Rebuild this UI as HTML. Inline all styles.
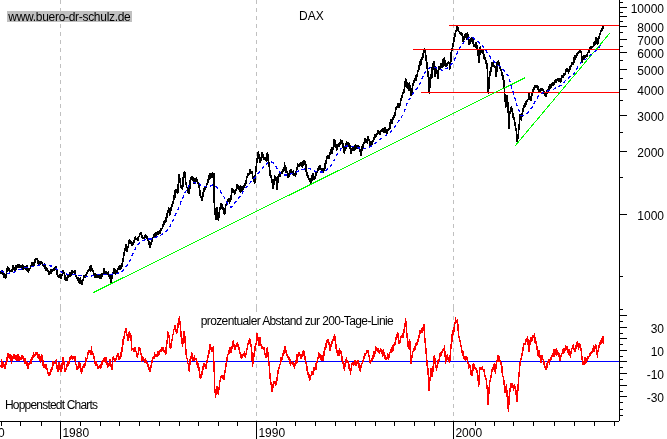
<!DOCTYPE html>
<html><head><meta charset="utf-8"><title>DAX</title>
<style>html,body{margin:0;padding:0;background:#fff;overflow:hidden}body{width:667px;height:439px;position:relative}</style>
</head><body>
<svg width="667" height="439" viewBox="0 0 667 439" style="position:absolute;left:0;top:0;will-change:transform">
<rect width="667" height="439" fill="#fff"/>
<line x1="60.5" y1="0" x2="60.5" y2="308" stroke="#c0c0c0" stroke-width="1" stroke-dasharray="4 4" shape-rendering="crispEdges"/>
<line x1="60.5" y1="308" x2="60.5" y2="421" stroke="#c0c0c0" stroke-width="1" stroke-dasharray="4 4" shape-rendering="crispEdges"/>
<line x1="256.5" y1="0" x2="256.5" y2="308" stroke="#c0c0c0" stroke-width="1" stroke-dasharray="4 4" shape-rendering="crispEdges"/>
<line x1="256.5" y1="308" x2="256.5" y2="421" stroke="#c0c0c0" stroke-width="1" stroke-dasharray="4 4" shape-rendering="crispEdges"/>
<line x1="453.5" y1="0" x2="453.5" y2="308" stroke="#c0c0c0" stroke-width="1" stroke-dasharray="4 4" shape-rendering="crispEdges"/>
<line x1="453.5" y1="308" x2="453.5" y2="421" stroke="#c0c0c0" stroke-width="1" stroke-dasharray="4 4" shape-rendering="crispEdges"/>
<rect x="7" y="11" width="125" height="11" fill="#c0c0c0" shape-rendering="crispEdges"/>
<path d="M1.0,272.5 L1.0,273.4 L1.3,271.1 L1.4,272.0 L1.7,272.1 L2.0,271.0 L2.3,272.1 L2.4,271.8 L2.7,271.3 L3.0,273.9 L3.4,274.5 L3.7,277.2 L4.1,273.4 L4.4,276.0 L4.5,276.6 L4.7,276.2 L5.1,277.6 L5.4,275.1 L5.7,278.1 L5.8,277.1 L6.1,275.4 L6.4,273.6 L6.8,270.9 L7.1,269.6 L7.5,267.1 L7.5,266.8 L7.8,267.9 L8.1,267.6 L8.5,268.7 L8.8,268.4 L9.0,269.8 L9.2,270.5 L9.5,271.0 L9.8,270.8 L10.2,270.8 L10.5,271.6 L10.9,271.0 L11.2,270.3 L11.3,271.4 L11.5,271.3 L11.9,271.1 L12.2,269.6 L12.6,268.1 L12.9,266.0 L13.2,266.5 L13.5,267.6 L13.6,267.5 L13.9,267.5 L14.3,269.2 L14.6,270.5 L14.9,270.0 L15.0,270.6 L15.3,269.9 L15.6,267.7 L16.0,269.1 L16.3,265.7 L16.6,268.0 L17.0,267.8 L17.3,267.5 L17.7,266.9 L18.0,265.1 L18.0,266.1 L18.3,267.0 L18.7,267.2 L19.0,267.6 L19.4,265.2 L19.7,266.4 L20.0,265.3 L20.3,267.6 L20.4,266.7 L20.7,266.4 L21.1,265.8 L21.4,266.9 L21.7,266.3 L22.1,268.1 L22.4,264.5 L22.6,266.8 L22.8,268.8 L23.1,269.6 L23.4,267.2 L23.8,266.0 L24.1,268.2 L24.5,266.4 L24.8,266.5 L25.1,267.4 L25.5,269.3 L25.8,268.6 L26.2,268.3 L26.3,267.6 L26.5,268.0 L26.8,265.7 L27.2,270.2 L27.5,270.6 L27.9,271.2 L28.2,271.8 L28.3,270.9 L28.5,268.6 L28.9,269.1 L29.2,270.0 L29.6,268.4 L29.9,268.8 L30.2,268.1 L30.6,267.1 L30.8,266.1 L30.9,265.3 L31.3,265.3 L31.6,266.4 L31.9,264.7 L32.3,262.4 L32.6,263.5 L33.0,265.9 L33.3,264.7 L33.6,262.9 L33.8,263.1 L34.0,265.7 L34.3,262.7 L34.7,262.8 L35.0,262.1 L35.3,259.5 L35.7,259.7 L36.0,259.2 L36.4,258.4 L36.7,258.4 L36.8,258.6 L37.0,259.4 L37.4,259.9 L37.7,260.9 L38.1,261.3 L38.3,262.3 L38.4,264.1 L38.7,261.6 L39.1,262.8 L39.4,261.9 L39.8,262.4 L40.1,261.4 L40.4,263.9 L40.8,262.3 L41.1,262.9 L41.4,262.3 L41.5,262.3 L41.8,262.9 L42.1,263.7 L42.5,263.8 L42.8,265.2 L43.2,265.5 L43.5,264.6 L43.6,265.3 L43.8,266.5 L44.2,265.5 L44.5,263.7 L44.9,266.9 L45.2,268.2 L45.5,269.5 L45.9,270.3 L46.2,267.7 L46.6,269.4 L46.6,268.3 L46.9,268.1 L47.2,269.6 L47.6,269.6 L47.9,271.3 L48.3,270.7 L48.6,272.6 L48.9,272.1 L49.3,274.4 L49.6,274.4 L49.6,271.6 L50.0,271.7 L50.3,273.3 L50.6,271.0 L51.0,273.6 L51.3,269.6 L51.7,272.2 L52.0,270.4 L52.3,271.2 L52.6,270.6 L52.7,269.6 L53.0,269.5 L53.4,270.2 L53.7,270.3 L54.0,270.2 L54.4,267.9 L54.7,268.6 L55.1,269.2 L55.4,269.0 L55.7,268.6 L56.1,266.3 L56.4,269.1 L56.4,269.7 L56.8,270.0 L57.1,274.2 L57.4,273.7 L57.8,276.1 L57.9,275.9 L58.1,276.1 L58.5,277.4 L58.8,277.3 L59.1,277.1 L59.5,274.8 L59.8,276.3 L60.2,275.1 L60.5,278.6 L60.8,278.4 L60.9,278.1 L61.2,276.7 L61.5,276.0 L61.9,274.8 L62.2,275.4 L62.5,272.7 L62.9,271.9 L63.2,271.4 L63.2,270.4 L63.6,272.8 L63.9,273.6 L64.2,273.2 L64.6,274.2 L64.9,278.9 L65.3,279.9 L65.4,280.4 L65.6,280.5 L65.9,280.5 L66.3,278.8 L66.6,277.9 L67.0,280.2 L67.3,278.6 L67.6,277.8 L68.0,276.0 L68.3,276.3 L68.7,276.5 L69.0,275.6 L69.2,275.1 L69.3,275.4 L69.7,272.4 L70.0,276.3 L70.4,274.1 L70.7,273.9 L71.0,275.0 L71.4,273.5 L71.7,272.7 L72.1,271.3 L72.4,270.5 L72.7,273.0 L72.9,271.4 L73.1,272.6 L73.4,271.6 L73.8,272.6 L74.1,272.8 L74.4,271.4 L74.8,273.7 L75.1,270.9 L75.2,273.6 L75.5,273.8 L75.8,275.7 L76.1,275.7 L76.5,277.0 L76.8,277.2 L77.2,278.3 L77.4,279.6 L77.5,279.4 L77.8,280.5 L78.2,278.2 L78.5,280.6 L78.9,279.5 L79.2,282.4 L79.5,280.7 L79.9,283.2 L80.2,278.0 L80.6,281.2 L80.9,280.4 L81.2,281.1 L81.6,280.6 L81.9,284.4 L82.0,281.9 L82.3,281.9 L82.6,280.3 L82.9,279.9 L83.3,279.7 L83.6,276.2 L84.0,277.4 L84.3,277.2 L84.6,277.1 L85.0,275.7 L85.3,276.8 L85.7,275.9 L85.7,275.1 L86.0,275.6 L86.3,274.2 L86.7,272.5 L87.0,272.9 L87.4,272.8 L87.7,270.9 L88.0,270.6 L88.4,270.5 L88.7,270.9 L89.1,269.3 L89.4,268.8 L89.5,269.1 L89.7,267.0 L90.1,268.2 L90.4,271.2 L90.8,269.8 L91.1,266.1 L91.4,266.8 L91.7,268.3 L91.8,268.0 L92.1,270.3 L92.5,270.2 L92.8,271.4 L93.1,270.9 L93.5,273.2 L93.8,274.5 L94.2,273.6 L94.5,275.8 L94.7,276.6 L94.8,277.6 L95.2,273.8 L95.5,277.0 L95.9,276.5 L96.2,275.4 L96.5,277.4 L96.9,277.3 L97.2,274.4 L97.6,276.5 L97.9,277.4 L98.0,276.4 L98.2,276.9 L98.6,276.6 L98.9,275.8 L99.3,276.4 L99.6,277.5 L99.9,278.2 L100.3,275.0 L100.6,277.8 L101.0,278.5 L101.0,277.9 L101.3,276.1 L101.6,276.4 L102.0,276.0 L102.3,273.4 L102.7,275.2 L103.0,273.4 L103.3,273.0 L103.7,271.3 L104.0,271.1 L104.0,268.3 L104.4,271.1 L104.7,273.6 L105.0,272.7 L105.4,271.8 L105.7,272.4 L106.1,274.7 L106.4,273.0 L106.7,272.2 L107.0,274.1 L107.1,274.0 L107.4,273.7 L107.8,273.9 L108.1,272.2 L108.4,274.8 L108.8,276.1 L109.1,276.6 L109.3,275.6 L109.5,278.5 L109.8,277.6 L110.1,277.0 L110.5,275.0 L110.8,278.1 L111.2,282.1 L111.2,279.4 L111.5,277.8 L111.8,278.1 L112.2,276.1 L112.5,274.9 L112.9,273.4 L113.2,272.5 L113.5,272.6 L113.8,271.1 L113.9,268.6 L114.2,273.0 L114.6,272.8 L114.9,271.7 L115.2,273.9 L115.6,270.0 L115.9,273.9 L116.0,273.4 L116.3,273.2 L116.6,272.1 L116.9,272.5 L117.3,270.4 L117.6,270.1 L118.0,268.8 L118.3,269.3 L118.6,268.7 L119.0,267.1 L119.0,267.4 L119.3,267.2 L119.7,269.1 L120.0,265.5 L120.3,267.9 L120.7,268.8 L121.0,266.0 L121.3,268.1 L121.4,267.1 L121.7,266.5 L122.0,263.9 L122.4,262.9 L122.7,261.4 L122.8,260.6 L123.1,260.9 L123.4,257.2 L123.7,255.7 L124.1,253.0 L124.3,253.1 L124.4,251.8 L124.8,250.7 L125.1,248.5 L125.4,248.3 L125.8,245.2 L125.8,244.8 L126.1,245.0 L126.5,247.4 L126.8,246.8 L127.1,251.1 L127.3,249.3 L127.5,248.7 L127.8,247.0 L128.2,247.3 L128.5,245.1 L128.8,242.6 L129.2,240.8 L129.5,240.8 L129.6,240.3 L129.9,240.1 L130.2,240.8 L130.5,242.0 L130.9,241.5 L131.2,244.0 L131.6,243.4 L131.8,245.6 L131.9,245.7 L132.2,244.3 L132.6,244.8 L132.9,243.4 L133.3,242.5 L133.6,242.8 L133.9,240.7 L134.3,242.5 L134.6,239.7 L134.8,239.5 L135.0,239.3 L135.3,237.1 L135.6,239.4 L136.0,239.8 L136.3,238.9 L136.7,238.4 L137.0,239.0 L137.3,238.2 L137.7,239.4 L137.9,238.8 L138.0,240.7 L138.4,238.7 L138.7,236.4 L139.0,236.3 L139.4,236.1 L139.7,234.5 L140.1,234.0 L140.4,234.4 L140.7,232.6 L140.9,232.8 L141.1,233.3 L141.4,235.1 L141.8,235.1 L142.1,237.3 L142.4,235.8 L142.8,237.3 L143.1,238.0 L143.1,237.6 L143.5,237.9 L143.8,237.8 L144.1,237.8 L144.5,238.3 L144.8,237.2 L145.2,235.9 L145.5,235.9 L145.8,235.3 L146.1,235.8 L146.2,236.6 L146.5,235.9 L146.9,237.8 L147.2,237.1 L147.5,238.4 L147.9,238.6 L148.2,240.8 L148.4,240.3 L148.6,243.2 L148.9,242.1 L149.2,244.7 L149.6,243.8 L149.9,247.6 L150.3,246.6 L150.3,247.1 L150.6,245.2 L150.9,243.3 L151.3,243.0 L151.6,239.9 L152.0,240.9 L152.1,239.5 L152.3,240.4 L152.6,237.6 L153.0,237.8 L153.3,237.4 L153.7,236.1 L154.0,234.5 L154.3,234.7 L154.4,234.3 L154.7,236.6 L155.0,234.3 L155.4,234.6 L155.7,233.4 L156.0,233.1 L156.4,233.4 L156.7,234.7 L157.1,234.0 L157.4,232.0 L157.7,233.8 L158.1,233.5 L158.2,233.5 L158.4,234.0 L158.8,232.1 L159.1,231.7 L159.4,231.5 L159.8,232.1 L160.1,233.2 L160.5,228.8 L160.8,230.5 L161.1,230.4 L161.2,229.8 L161.5,229.9 L161.8,228.6 L162.2,228.1 L162.5,227.9 L162.8,226.0 L163.2,224.9 L163.4,225.3 L163.5,222.9 L163.9,224.4 L164.2,221.9 L164.5,222.8 L164.9,222.0 L165.2,220.4 L165.6,222.0 L165.9,219.8 L166.2,217.6 L166.5,217.9 L166.6,218.0 L166.9,216.5 L167.3,213.4 L167.6,212.4 L167.9,212.2 L168.3,210.9 L168.6,208.4 L168.8,208.1 L169.0,209.4 L169.3,213.1 L169.5,214.1 L169.6,215.5 L170.0,211.2 L170.3,212.1 L170.7,210.9 L171.0,210.2 L171.3,207.1 L171.7,207.1 L172.0,206.1 L172.4,204.3 L172.6,203.6 L172.7,203.9 L173.0,202.1 L173.4,201.4 L173.7,199.3 L174.1,197.8 L174.4,194.9 L174.7,198.3 L174.8,196.8 L175.1,191.0 L175.4,192.7 L175.6,190.8 L175.8,191.5 L176.1,189.8 L176.4,191.0 L176.8,192.6 L177.1,190.5 L177.5,193.3 L177.8,192.3 L177.8,189.2 L178.1,186.0 L178.5,183.5 L178.8,178.6 L178.9,176.5 L179.2,174.5 L179.5,177.9 L179.8,179.1 L180.2,182.0 L180.5,183.9 L180.8,185.6 L180.9,187.1 L181.2,187.5 L181.5,185.7 L181.9,187.6 L182.2,188.0 L182.3,188.6 L182.6,189.1 L182.9,181.9 L183.2,177.7 L183.6,177.8 L183.8,175.0 L183.9,173.2 L184.3,173.7 L184.6,172.8 L184.6,171.9 L184.9,174.9 L185.3,177.2 L185.6,182.1 L186.0,184.1 L186.1,184.1 L186.3,183.5 L186.6,186.6 L187.0,187.5 L187.3,188.0 L187.6,189.3 L187.7,192.6 L188.0,188.6 L188.3,192.7 L188.7,192.2 L189.0,192.8 L189.1,193.8 L189.4,191.2 L189.7,188.2 L190.0,183.4 L190.4,179.3 L190.6,178.0 L190.7,178.6 L191.1,177.5 L191.4,179.6 L191.7,178.0 L192.1,177.0 L192.4,179.2 L192.8,177.4 L192.9,180.3 L193.1,179.5 L193.4,178.8 L193.8,179.2 L194.1,183.7 L194.5,178.8 L194.8,181.3 L195.1,180.5 L195.5,178.8 L195.8,178.8 L196.2,178.2 L196.5,180.4 L196.6,179.5 L196.8,180.0 L197.2,181.5 L197.5,181.1 L197.9,183.2 L198.2,182.9 L198.5,185.2 L198.9,185.2 L198.9,184.1 L199.2,187.3 L199.6,189.9 L199.9,192.0 L200.2,194.2 L200.4,196.1 L200.6,197.2 L200.9,196.3 L201.3,197.3 L201.6,197.7 L201.9,199.8 L202.3,199.9 L202.3,199.1 L202.6,197.3 L203.0,194.1 L203.3,192.6 L203.6,193.1 L204.0,188.8 L204.1,189.3 L204.3,189.2 L204.7,188.8 L205.0,189.4 L205.3,187.8 L205.7,186.9 L206.0,187.1 L206.4,186.0 L206.4,187.1 L206.7,184.3 L207.0,184.2 L207.4,183.5 L207.7,180.3 L208.1,182.1 L208.4,182.6 L208.6,179.5 L208.7,176.0 L209.1,178.5 L209.4,176.8 L209.8,178.9 L210.1,173.4 L210.2,173.5 L210.4,174.6 L210.8,173.8 L211.1,176.8 L211.5,173.9 L211.8,173.9 L212.1,174.1 L212.4,175.0 L212.5,176.7 L212.8,173.2 L213.2,174.6 L213.5,174.9 L213.8,173.9 L213.9,174.3 L214.2,193.8 L214.4,204.4 L214.5,207.0 L214.9,208.6 L215.2,209.7 L215.5,218.9 L215.7,219.4 L215.9,214.8 L216.2,213.7 L216.6,214.5 L216.9,208.1 L216.9,211.2 L217.2,211.2 L217.6,214.1 L217.9,217.2 L218.3,218.2 L218.4,220.2 L218.6,218.9 L218.9,216.2 L219.3,211.9 L219.6,210.5 L219.9,209.6 L220.0,208.0 L220.3,206.9 L220.6,206.6 L221.0,208.0 L221.3,203.8 L221.4,203.6 L221.7,204.9 L222.0,205.0 L222.3,207.5 L222.7,208.3 L222.9,208.1 L223.0,209.0 L223.4,208.9 L223.7,210.5 L224.0,213.2 L224.4,212.8 L224.7,213.4 L224.7,214.3 L225.1,210.8 L225.4,208.0 L225.7,206.0 L225.9,205.1 L226.1,205.6 L226.4,204.7 L226.8,202.9 L227.1,203.4 L227.4,202.0 L227.8,199.6 L228.1,199.6 L228.2,199.1 L228.5,201.1 L228.8,200.6 L229.1,198.4 L229.5,203.3 L229.8,200.5 L230.2,201.2 L230.5,200.6 L230.5,200.9 L230.8,198.9 L231.2,196.8 L231.5,193.7 L231.9,192.3 L232.0,191.6 L232.2,188.3 L232.5,192.3 L232.9,192.0 L233.2,192.5 L233.6,190.2 L233.9,191.4 L234.2,191.4 L234.6,192.1 L234.9,193.8 L235.0,191.6 L235.3,191.3 L235.6,189.7 L235.9,190.2 L236.3,190.6 L236.6,189.8 L237.0,184.6 L237.3,186.2 L237.6,185.9 L238.0,185.2 L238.0,186.3 L238.3,188.3 L238.7,186.4 L239.0,189.5 L239.3,188.6 L239.7,189.4 L240.0,189.4 L240.4,192.6 L240.7,186.2 L241.0,190.1 L241.0,190.4 L241.4,188.4 L241.7,191.6 L242.1,187.6 L242.4,188.2 L242.7,189.6 L243.0,187.1 L243.1,186.6 L243.4,186.9 L243.8,185.8 L244.1,186.9 L244.4,185.4 L244.8,183.6 L245.1,184.9 L245.3,184.1 L245.5,183.0 L245.8,183.3 L246.1,180.9 L246.5,179.1 L246.8,177.5 L247.2,176.8 L247.5,175.1 L247.5,175.9 L247.8,173.9 L248.2,174.0 L248.5,175.5 L248.9,173.3 L249.2,174.3 L249.5,171.9 L249.8,170.6 L249.9,171.7 L250.2,169.6 L250.6,172.7 L250.9,171.8 L251.2,171.6 L251.6,173.1 L251.9,172.2 L252.0,171.4 L252.3,171.7 L252.6,175.3 L252.9,177.6 L253.3,178.5 L253.5,179.6 L253.6,177.8 L254.0,180.3 L254.3,182.0 L254.6,183.4 L254.6,182.7 L255.0,182.5 L255.3,175.8 L255.7,171.5 L255.8,169.1 L256.0,166.9 L256.3,167.8 L256.7,162.2 L256.8,160.1 L257.0,161.3 L257.4,157.9 L257.7,157.6 L258.0,152.4 L258.3,154.8 L258.4,152.0 L258.7,154.7 L259.1,157.8 L259.4,158.9 L259.7,157.4 L260.1,162.8 L260.3,160.1 L260.4,159.1 L260.8,159.1 L261.1,158.2 L261.4,160.0 L261.8,152.3 L262.1,154.0 L262.3,154.1 L262.5,155.6 L262.8,157.4 L263.1,156.8 L263.5,154.5 L263.8,158.6 L264.1,158.6 L264.2,159.1 L264.5,159.2 L264.8,158.3 L265.2,159.5 L265.5,157.5 L265.6,160.1 L265.9,160.7 L266.2,161.0 L266.5,156.0 L266.9,156.5 L267.2,153.3 L267.5,153.3 L267.6,152.7 L267.9,157.5 L268.2,159.2 L268.6,163.0 L268.6,162.3 L268.9,162.4 L269.3,165.4 L269.6,171.5 L269.9,170.4 L270.1,172.1 L270.3,175.4 L270.6,174.6 L271.0,175.9 L271.3,177.1 L271.6,179.6 L271.6,178.7 L272.0,182.1 L272.3,182.4 L272.7,186.6 L272.8,187.9 L273.0,188.1 L273.3,183.8 L273.7,184.7 L274.0,180.6 L274.3,179.6 L274.4,178.2 L274.7,175.7 L275.0,179.9 L275.4,177.9 L275.7,178.9 L276.1,180.1 L276.1,178.1 L276.4,179.9 L276.7,187.3 L276.8,189.4 L277.1,184.9 L277.4,184.4 L277.8,182.0 L278.1,180.0 L278.3,176.6 L278.4,176.1 L278.8,174.7 L279.1,175.0 L279.5,175.9 L279.8,174.4 L279.8,173.1 L280.1,174.0 L280.5,176.1 L280.8,172.5 L281.2,173.2 L281.5,172.6 L281.8,171.4 L282.2,173.0 L282.5,171.3 L282.9,171.1 L282.9,171.4 L283.2,169.2 L283.5,170.5 L283.9,168.1 L284.2,170.3 L284.6,162.9 L284.7,165.3 L284.9,165.2 L285.2,168.2 L285.6,168.5 L285.9,168.9 L286.3,172.3 L286.6,167.9 L286.6,170.6 L286.9,171.5 L287.3,171.7 L287.6,172.3 L288.0,174.7 L288.3,177.4 L288.6,177.1 L288.9,176.6 L289.0,176.0 L289.3,174.8 L289.7,174.3 L290.0,170.4 L290.3,169.9 L290.4,169.8 L290.7,171.1 L291.0,171.7 L291.4,170.3 L291.7,173.3 L292.0,172.0 L292.4,173.6 L292.6,173.6 L292.7,173.2 L293.1,171.2 L293.4,175.3 L293.7,175.3 L294.1,175.2 L294.4,175.5 L294.8,174.0 L295.1,174.2 L295.4,176.2 L295.6,175.1 L295.8,173.5 L296.1,172.3 L296.5,170.2 L296.8,169.8 L297.1,167.6 L297.1,168.8 L297.5,166.6 L297.8,164.2 L298.2,165.6 L298.5,166.0 L298.8,166.2 L299.2,166.5 L299.5,165.4 L299.9,164.1 L300.2,164.5 L300.2,164.6 L300.5,165.1 L300.9,163.1 L301.2,165.3 L301.6,164.5 L301.9,166.2 L302.2,166.0 L302.4,166.1 L302.6,166.9 L302.9,161.4 L303.3,164.6 L303.6,161.4 L303.9,161.4 L304.2,160.8 L304.3,164.3 L304.6,160.5 L305.0,161.9 L305.3,163.3 L305.6,164.5 L305.7,163.8 L306.0,168.3 L306.2,170.6 L306.3,171.7 L306.7,172.7 L307.0,175.7 L307.3,172.7 L307.7,175.3 L307.7,175.1 L308.0,177.3 L308.4,176.9 L308.7,179.1 L309.0,178.8 L309.2,179.6 L309.4,179.8 L309.7,180.1 L310.1,181.5 L310.4,181.5 L310.7,182.6 L310.7,183.4 L311.1,179.5 L311.4,178.4 L311.8,180.9 L312.1,175.9 L312.2,175.9 L312.4,177.2 L312.8,176.1 L313.1,174.2 L313.5,178.2 L313.8,179.7 L314.1,179.3 L314.4,179.6 L314.5,179.4 L314.8,178.6 L315.2,176.6 L315.5,175.4 L315.8,175.1 L315.9,174.4 L316.2,172.6 L316.5,172.6 L316.9,172.2 L317.2,172.4 L317.4,170.6 L317.5,170.1 L317.9,170.9 L318.2,168.8 L318.6,167.1 L318.9,168.5 L319.2,169.3 L319.4,166.1 L319.6,166.9 L319.9,168.3 L320.3,166.0 L320.6,168.1 L320.9,169.6 L321.2,169.1 L321.3,169.5 L321.6,171.0 L322.0,168.8 L322.3,171.3 L322.6,169.5 L323.0,172.3 L323.0,171.4 L323.3,170.5 L323.7,170.7 L324.0,168.8 L324.3,168.1 L324.7,168.8 L325.0,166.1 L325.0,163.6 L325.4,164.5 L325.7,163.2 L326.0,163.3 L326.4,159.4 L326.5,159.3 L326.7,157.3 L327.1,157.5 L327.4,158.3 L327.7,157.5 L328.1,155.9 L328.4,156.9 L328.7,156.3 L328.8,156.0 L329.1,158.5 L329.4,155.6 L329.8,154.9 L330.1,152.6 L330.5,153.6 L330.8,150.8 L331.0,151.1 L331.1,149.6 L331.5,151.6 L331.8,147.9 L332.2,153.3 L332.5,149.0 L332.8,148.1 L333.2,148.5 L333.2,148.8 L333.5,149.4 L333.9,142.9 L334.2,139.9 L334.5,141.8 L334.7,140.5 L334.9,140.5 L335.2,145.5 L335.6,143.7 L335.9,147.3 L336.0,146.9 L336.2,145.9 L336.6,147.3 L336.9,149.8 L337.3,146.1 L337.6,145.3 L337.9,145.6 L338.3,146.3 L338.3,146.1 L338.6,144.9 L339.0,144.2 L339.3,143.3 L339.6,145.7 L340.0,142.9 L340.3,142.8 L340.7,139.7 L341.0,142.4 L341.3,140.9 L341.3,141.4 L341.7,141.3 L342.0,141.0 L342.4,144.6 L342.7,143.1 L342.8,143.9 L343.0,146.4 L343.4,148.4 L343.7,146.0 L344.1,151.9 L344.3,152.9 L344.4,152.0 L344.7,151.1 L345.1,148.3 L345.4,146.9 L345.8,148.6 L345.8,145.4 L346.1,145.7 L346.4,142.3 L346.8,143.6 L347.1,142.7 L347.5,146.1 L347.8,143.5 L348.0,143.1 L348.1,142.7 L348.5,144.6 L348.8,143.4 L349.2,146.2 L349.5,144.9 L349.5,146.1 L349.8,145.7 L350.2,147.9 L350.5,149.7 L350.9,153.3 L351.1,152.9 L351.2,152.3 L351.5,152.2 L351.9,149.0 L352.2,148.7 L352.6,148.3 L352.6,147.6 L352.9,148.6 L353.2,149.3 L353.6,147.8 L353.9,150.0 L354.3,147.0 L354.6,148.7 L354.8,148.4 L354.9,149.6 L355.3,145.1 L355.6,147.7 L356.0,147.2 L356.3,146.9 L356.6,145.9 L357.0,147.7 L357.1,147.6 L357.3,148.6 L357.7,146.5 L358.0,145.7 L358.3,145.9 L358.6,146.1 L358.7,146.5 L359.0,146.8 L359.4,149.2 L359.7,151.0 L360.0,150.5 L360.4,149.6 L360.7,155.5 L360.8,154.4 L361.1,152.0 L361.4,151.6 L361.7,146.6 L362.1,149.9 L362.3,147.6 L362.4,146.2 L362.8,147.7 L363.1,144.5 L363.4,144.9 L363.8,142.4 L364.1,143.2 L364.5,143.1 L364.6,141.6 L364.8,138.9 L365.1,140.2 L365.5,142.2 L365.8,140.4 L366.2,142.0 L366.5,140.1 L366.8,140.9 L366.8,141.8 L367.2,143.0 L367.5,139.9 L367.9,140.3 L368.2,136.7 L368.5,139.9 L368.9,140.4 L369.1,139.4 L369.2,141.0 L369.6,141.2 L369.9,141.7 L370.2,145.3 L370.6,144.4 L370.6,145.4 L370.9,141.6 L371.3,145.9 L371.6,142.4 L371.9,144.1 L372.3,142.4 L372.6,142.5 L372.9,141.6 L373.0,141.2 L373.3,140.5 L373.6,140.7 L374.0,138.1 L374.3,138.1 L374.7,134.5 L375.0,136.2 L375.1,136.4 L375.3,137.3 L375.7,136.6 L376.0,136.4 L376.4,136.0 L376.7,134.5 L377.0,134.0 L377.4,133.3 L377.4,133.3 L377.7,132.5 L378.1,130.6 L378.4,133.1 L378.7,131.3 L379.1,131.8 L379.4,131.7 L379.6,131.8 L379.8,131.9 L380.1,134.4 L380.4,134.0 L380.8,131.4 L381.1,130.4 L381.5,131.4 L381.8,129.7 L382.1,129.9 L382.5,129.2 L382.6,130.3 L382.8,131.2 L383.2,130.6 L383.5,128.8 L383.8,132.0 L384.2,132.7 L384.5,129.4 L384.9,128.1 L385.2,127.9 L385.3,128.8 L385.5,128.3 L385.9,130.0 L386.2,132.5 L386.4,132.6 L386.6,133.4 L386.9,132.9 L387.2,132.6 L387.6,130.1 L387.9,130.1 L388.3,130.6 L388.6,128.6 L388.6,129.6 L388.9,129.3 L389.3,128.4 L389.6,125.7 L390.0,128.8 L390.2,125.1 L390.3,122.7 L390.6,124.1 L391.0,120.1 L391.3,121.8 L391.7,121.3 L392.0,120.9 L392.3,123.4 L392.4,120.6 L392.7,119.9 L393.0,119.6 L393.4,116.4 L393.7,115.8 L393.9,116.1 L394.0,116.7 L394.4,117.0 L394.7,114.2 L395.1,115.2 L395.4,111.4 L395.7,109.4 L396.1,108.9 L396.2,109.3 L396.4,106.4 L396.8,107.5 L397.1,107.2 L397.4,106.7 L397.7,105.5 L397.8,105.3 L398.1,103.4 L398.5,104.6 L398.8,107.1 L399.1,107.0 L399.2,107.0 L399.5,106.3 L399.8,105.3 L400.2,103.9 L400.5,102.2 L400.7,101.0 L400.8,99.9 L401.2,100.1 L401.3,98.6 L401.5,98.4 L401.9,97.6 L402.2,95.9 L402.5,94.5 L402.9,92.7 L403.2,92.4 L403.6,91.8 L403.9,89.7 L404.2,92.5 L404.3,89.6 L404.6,87.5 L404.9,85.4 L405.3,81.5 L405.6,80.0 L405.8,79.1 L405.9,80.1 L406.3,81.5 L406.6,81.7 L407.0,86.3 L407.3,87.7 L407.3,88.1 L407.6,88.4 L408.0,88.0 L408.3,87.9 L408.7,88.5 L408.8,90.4 L409.0,87.5 L409.3,83.8 L409.5,82.9 L409.7,85.2 L410.0,86.0 L410.4,90.6 L410.7,90.8 L411.0,95.5 L411.1,94.9 L411.4,93.6 L411.7,92.5 L412.1,88.3 L412.4,88.4 L412.6,86.6 L412.7,86.0 L413.1,84.7 L413.4,83.1 L413.8,83.0 L414.1,82.2 L414.4,80.3 L414.8,80.8 L414.8,80.6 L415.1,78.7 L415.5,79.7 L415.8,75.7 L416.1,79.8 L416.5,76.5 L416.8,76.2 L417.1,75.3 L417.2,75.5 L417.5,73.2 L417.8,71.6 L418.2,71.6 L418.5,69.0 L418.9,69.4 L419.2,66.1 L419.3,66.3 L419.5,62.2 L419.9,64.9 L420.2,65.0 L420.6,65.3 L420.9,60.0 L421.2,60.7 L421.6,64.3 L421.6,61.1 L421.9,57.4 L422.3,58.8 L422.6,58.6 L422.9,54.4 L423.3,53.6 L423.6,51.7 L423.8,51.3 L424.0,51.0 L424.3,52.3 L424.6,49.0 L424.9,49.8 L425.0,50.2 L425.3,52.0 L425.7,55.7 L426.0,59.9 L426.1,59.5 L426.3,59.7 L426.7,62.0 L427.0,67.6 L427.4,69.1 L427.6,71.6 L427.7,71.3 L428.0,72.9 L428.4,77.3 L428.7,78.1 L428.8,77.6 L429.1,83.3 L429.4,93.2 L429.4,91.9 L429.7,86.8 L430.1,81.5 L430.3,77.6 L430.4,75.8 L430.8,75.1 L431.1,78.6 L431.4,75.1 L431.8,77.1 L432.1,70.1 L432.1,67.8 L432.5,67.0 L432.8,69.4 L433.1,63.9 L433.5,66.3 L433.8,64.7 L434.1,61.8 L434.2,65.8 L434.5,65.2 L434.8,66.7 L435.1,70.1 L435.2,76.1 L435.5,70.1 L435.9,69.9 L436.2,70.6 L436.5,71.5 L436.9,72.0 L437.2,72.5 L437.4,74.6 L437.6,73.9 L437.9,78.2 L438.2,73.0 L438.6,67.1 L438.9,68.6 L438.9,68.7 L439.3,67.5 L439.6,69.4 L439.9,67.2 L440.3,66.0 L440.6,67.3 L441.0,65.4 L441.1,64.1 L441.3,63.7 L441.6,67.3 L442.0,65.3 L442.3,64.9 L442.6,67.1 L442.7,64.5 L443.0,66.2 L443.3,59.4 L443.7,59.4 L444.0,60.5 L444.1,58.8 L444.4,57.8 L444.7,60.3 L445.0,62.6 L445.4,66.6 L445.7,66.5 L445.9,65.6 L446.1,65.8 L446.4,63.7 L446.7,65.4 L447.1,64.8 L447.4,63.4 L447.8,63.6 L447.9,62.6 L448.1,63.3 L448.4,61.7 L448.8,62.1 L449.1,63.3 L449.5,63.7 L449.8,69.0 L450.1,64.2 L450.2,64.1 L450.5,61.3 L450.8,61.5 L451.2,54.0 L451.3,52.6 L451.5,52.5 L451.8,49.7 L452.2,49.8 L452.5,46.2 L452.8,46.6 L452.9,45.3 L453.2,44.9 L453.5,41.5 L453.9,41.2 L454.2,38.0 L454.3,37.6 L454.6,37.2 L454.9,34.4 L455.2,33.5 L455.6,31.8 L455.8,31.5 L455.9,30.7 L456.3,30.3 L456.6,30.0 L456.9,27.0 L457.3,26.3 L457.3,26.3 L457.6,26.5 L458.0,28.1 L458.3,30.4 L458.6,30.6 L458.8,31.5 L459.0,31.5 L459.3,31.8 L459.7,33.2 L460.0,33.0 L460.3,33.8 L460.3,34.1 L460.7,32.9 L461.0,34.7 L461.4,34.7 L461.7,32.8 L462.0,33.9 L462.4,34.4 L462.6,34.5 L462.7,36.5 L463.1,38.8 L463.3,41.3 L463.4,42.0 L463.7,39.2 L464.1,37.6 L464.4,36.3 L464.8,35.2 L464.8,34.5 L465.1,36.7 L465.4,36.0 L465.8,34.1 L466.1,35.8 L466.3,37.6 L466.5,39.3 L466.8,37.6 L467.1,35.6 L467.5,32.4 L467.5,33.8 L467.8,35.3 L468.2,39.0 L468.5,37.8 L468.6,39.8 L468.8,44.7 L469.2,39.6 L469.5,41.3 L469.9,43.2 L470.1,43.6 L470.2,41.6 L470.5,43.6 L470.9,38.9 L471.2,39.1 L471.6,39.2 L471.9,38.7 L472.2,37.3 L472.3,37.6 L472.6,38.3 L472.9,39.7 L473.3,43.5 L473.6,45.6 L473.8,46.6 L473.9,45.7 L474.3,45.3 L474.6,46.5 L475.0,44.9 L475.3,44.5 L475.6,42.7 L476.0,46.9 L476.1,43.6 L476.3,43.1 L476.7,44.8 L477.0,47.4 L477.3,48.6 L477.6,49.6 L477.7,51.0 L478.0,53.1 L478.4,56.5 L478.7,57.8 L478.8,62.4 L479.0,60.6 L479.4,55.6 L479.7,51.2 L479.8,51.1 L480.1,47.2 L480.4,54.1 L480.7,51.8 L481.1,50.5 L481.4,50.0 L481.8,50.5 L482.1,50.0 L482.1,51.1 L482.4,53.3 L482.8,50.9 L483.1,53.5 L483.5,52.4 L483.8,55.2 L484.1,58.0 L484.4,55.6 L484.5,54.7 L484.8,58.9 L485.2,58.7 L485.5,59.5 L485.8,61.3 L485.9,61.6 L486.2,61.7 L486.5,65.9 L486.9,63.2 L487.2,67.3 L487.4,69.1 L487.5,76.6 L487.9,80.3 L488.2,92.4 L488.3,93.0 L488.6,90.6 L488.9,82.5 L489.2,81.0 L489.3,78.0 L489.6,75.4 L489.9,75.2 L490.3,71.5 L490.4,72.1 L490.6,72.4 L490.9,70.4 L491.3,67.8 L491.6,66.7 L492.0,66.3 L492.3,62.7 L492.6,64.6 L492.6,66.1 L493.0,66.2 L493.3,62.0 L493.7,65.9 L494.0,66.1 L494.3,65.8 L494.7,67.3 L494.9,67.6 L495.0,67.1 L495.4,67.2 L495.7,72.0 L496.0,76.1 L496.4,73.5 L496.4,73.6 L496.7,71.3 L497.1,67.4 L497.4,61.5 L497.7,62.5 L497.9,61.6 L498.1,61.3 L498.4,61.3 L498.8,62.4 L499.1,64.9 L499.4,64.6 L499.4,65.6 L499.8,67.2 L500.1,68.1 L500.5,68.3 L500.8,70.1 L500.9,70.6 L501.1,69.7 L501.5,72.1 L501.8,75.5 L502.2,73.1 L502.4,75.2 L502.5,73.1 L502.8,76.3 L503.2,79.7 L503.5,79.2 L503.9,81.5 L503.9,80.7 L504.2,86.5 L504.5,90.4 L504.9,98.1 L505.0,99.0 L505.2,99.1 L505.6,106.8 L505.9,105.5 L506.1,106.2 L506.2,103.6 L506.6,102.7 L506.9,98.6 L507.1,95.9 L507.3,98.7 L507.6,101.2 L507.9,106.1 L508.3,108.3 L508.3,109.2 L508.6,124.9 L508.7,128.7 L509.0,123.4 L509.3,122.4 L509.6,113.9 L509.7,113.3 L510.0,111.3 L510.3,112.1 L510.7,110.1 L511.0,109.0 L511.2,107.2 L511.3,108.3 L511.7,110.1 L512.0,109.0 L512.4,112.7 L512.7,113.2 L512.8,113.3 L513.0,114.4 L513.4,118.8 L513.7,117.5 L514.1,119.2 L514.4,120.1 L514.5,121.5 L514.7,123.9 L515.1,122.5 L515.4,126.9 L515.8,128.5 L515.9,128.7 L516.1,129.0 L516.4,131.3 L516.8,139.5 L517.1,141.5 L517.5,141.1 L517.5,141.0 L517.8,137.6 L518.1,135.9 L518.5,133.8 L518.8,126.3 L519.0,125.6 L519.2,128.2 L519.5,121.5 L519.8,118.1 L520.2,114.8 L520.4,114.4 L520.5,116.2 L520.9,116.3 L521.2,119.8 L521.4,119.5 L521.5,117.3 L521.9,116.4 L522.2,114.1 L522.6,112.9 L522.9,110.5 L523.1,109.2 L523.2,110.2 L523.6,107.7 L523.9,106.0 L524.3,107.3 L524.6,105.8 L524.9,106.6 L525.3,103.0 L525.5,104.1 L525.6,102.7 L526.0,104.0 L526.3,101.6 L526.6,102.7 L527.0,100.5 L527.3,99.9 L527.6,100.0 L527.7,99.6 L528.0,99.7 L528.3,99.1 L528.7,99.3 L529.0,94.1 L529.4,96.6 L529.6,95.9 L529.7,97.2 L530.0,96.5 L530.4,99.8 L530.7,98.7 L530.9,100.0 L531.1,98.4 L531.4,97.7 L531.7,95.5 L532.1,94.2 L532.4,92.5 L532.7,92.8 L532.8,92.3 L533.1,89.6 L533.4,91.1 L533.8,89.7 L534.1,88.3 L534.4,86.7 L534.5,85.9 L534.8,86.6 L535.1,87.1 L535.5,86.2 L535.8,87.6 L536.2,86.2 L536.5,86.2 L536.8,85.7 L537.2,86.8 L537.4,86.7 L537.5,85.5 L537.9,86.8 L538.2,89.2 L538.5,89.3 L538.9,89.4 L539.2,91.4 L539.5,91.8 L539.6,92.0 L539.9,91.8 L540.2,91.6 L540.6,89.8 L540.9,90.3 L541.3,88.4 L541.5,88.7 L541.6,88.9 L541.9,89.5 L542.3,88.7 L542.6,88.8 L543.0,90.2 L543.3,90.9 L543.6,90.8 L543.6,90.7 L544.0,91.3 L544.3,93.3 L544.7,92.7 L545.0,94.9 L545.3,96.1 L545.6,95.9 L545.7,96.3 L546.0,95.2 L546.4,93.2 L546.7,93.7 L547.0,93.0 L547.4,89.9 L547.7,90.8 L547.7,91.8 L548.1,91.3 L548.4,89.3 L548.7,88.1 L549.1,89.3 L549.4,85.3 L549.8,87.2 L550.1,88.7 L550.4,87.0 L550.8,85.3 L550.8,85.6 L551.1,87.0 L551.5,84.3 L551.8,85.3 L552.1,83.2 L552.5,82.9 L552.8,84.4 L553.2,83.7 L553.5,82.7 L553.8,82.6 L553.8,84.8 L554.2,83.4 L554.5,83.0 L554.9,81.6 L555.2,80.6 L555.5,81.6 L555.9,80.8 L556.2,79.9 L556.6,81.7 L556.9,80.0 L557.2,79.0 L557.5,79.5 L557.6,79.9 L557.9,80.2 L558.3,80.6 L558.6,81.2 L558.9,78.7 L559.3,79.6 L559.6,81.5 L560.0,80.7 L560.3,80.7 L560.4,81.5 L560.6,82.0 L561.0,79.2 L561.3,80.2 L561.7,76.1 L562.0,76.9 L562.1,77.4 L562.3,77.0 L562.7,77.5 L563.0,76.1 L563.4,76.1 L563.7,73.7 L564.0,73.7 L564.4,74.8 L564.7,74.9 L565.1,73.9 L565.1,73.3 L565.4,73.2 L565.7,69.8 L566.1,70.8 L566.4,69.7 L566.4,68.6 L566.8,70.4 L567.1,68.9 L567.4,68.9 L567.8,70.3 L568.1,70.1 L568.5,72.7 L568.8,70.9 L569.1,70.4 L569.1,70.0 L569.5,69.7 L569.8,69.1 L570.2,66.9 L570.5,66.0 L570.5,67.0 L570.8,66.2 L571.2,66.7 L571.5,65.6 L571.9,63.8 L572.2,62.4 L572.5,62.7 L572.9,63.4 L573.2,62.2 L573.2,62.5 L573.6,64.2 L573.9,57.9 L574.2,59.2 L574.6,58.4 L574.9,59.2 L575.3,55.4 L575.3,57.4 L575.6,55.8 L575.9,55.5 L576.3,57.7 L576.6,54.5 L577.0,53.8 L577.3,55.0 L577.4,54.0 L577.6,52.6 L578.0,53.4 L578.3,52.8 L578.7,52.6 L579.0,52.3 L579.3,51.1 L579.7,50.0 L580.0,49.6 L580.1,50.6 L580.4,51.8 L580.7,50.9 L581.0,51.8 L581.4,52.2 L581.5,53.3 L581.7,56.4 L582.1,60.0 L582.1,61.5 L582.4,61.7 L582.7,59.4 L583.1,59.2 L583.4,58.2 L583.5,58.8 L583.8,59.5 L584.1,55.7 L584.4,58.0 L584.8,57.1 L585.1,56.4 L585.5,56.5 L585.6,56.0 L585.8,56.3 L586.1,56.2 L586.5,56.0 L586.8,55.3 L587.2,56.7 L587.5,53.5 L587.8,52.6 L588.2,52.4 L588.3,52.6 L588.5,51.2 L588.9,52.5 L589.2,51.7 L589.5,50.8 L589.9,47.9 L590.2,47.0 L590.3,48.5 L590.6,49.2 L590.9,47.7 L591.2,48.5 L591.6,48.3 L591.9,46.5 L592.3,46.8 L592.4,47.1 L592.6,46.5 L592.9,46.4 L593.3,45.9 L593.6,46.0 L594.0,45.4 L594.3,42.1 L594.4,43.7 L594.6,42.8 L595.0,44.1 L595.3,41.8 L595.7,42.1 L596.0,41.7 L596.3,37.7 L596.5,40.3 L596.7,39.5 L597.0,43.3 L597.4,43.7 L597.6,44.4 L597.7,44.0 L598.0,39.1 L598.4,38.5 L598.5,38.9 L598.7,38.1 L599.1,38.0 L599.4,35.3 L599.7,33.5 L599.9,34.1 L600.1,33.6 L600.4,33.0 L600.8,31.6 L601.1,31.5 L601.4,30.1 L601.7,30.7 L601.8,29.8 L602.1,30.2 L602.5,26.6 L602.8,28.4 L603.1,26.6 L603.1,26.7 L603.5,26.3 L603.6,26.3" stroke="#000" stroke-width="1.7" fill="none" stroke-linejoin="round" shape-rendering="crispEdges"/>
<g stroke="#ff0000" stroke-width="1" shape-rendering="crispEdges">
<line x1="449" y1="25.5" x2="619" y2="25.5"/>
<line x1="413" y1="49.5" x2="619" y2="49.5"/>
<line x1="421" y1="92.5" x2="619" y2="92.5"/>
</g>
<g stroke="#00ff00" stroke-width="1" fill="none" shape-rendering="crispEdges">
<line x1="93.5" y1="292.5" x2="525.5" y2="77.5"/>
<line x1="514.5" y1="146.5" x2="609.5" y2="33.5"/>
</g>
<path d="M1.0,270.8 L6.8,273.6 L14.3,272.1 L20.3,269.4 L25.6,267.6 L32.3,266.5 L39.8,264.9 L46.6,264.6 L52.6,266.5 L57.9,269.8 L63.2,272.9 L68.4,274.7 L75.2,274.4 L82.0,275.9 L88.0,276.9 L94.7,275.1 L101.0,274.4 L108.5,274.9 L114.5,273.8 L120.6,272.6 L125.0,268.1 L128.8,262.9 L131.8,256.1 L134.4,250.8 L137.1,245.9 L140.9,241.8 L146.1,239.2 L152.9,238.8 L159.7,235.8 L165.7,232.3 L169.4,227.5 L171.8,223.2 L174.8,216.4 L177.8,209.6 L180.8,202.1 L183.8,195.3 L186.1,190.8 L189.1,185.6 L193.6,182.6 L198.9,183.3 L202.6,186.8 L207.9,186.8 L213.2,184.8 L217.7,187.8 L222.2,193.8 L225.2,199.1 L227.4,203.6 L231.2,207.4 L235.7,202.1 L240.2,196.1 L244.5,189.4 L249.0,184.1 L253.5,178.9 L258.0,173.6 L262.6,168.3 L266.3,163.8 L270.1,161.3 L273.8,163.4 L277.6,169.1 L281.4,174.4 L285.1,175.1 L289.6,174.4 L294.1,172.9 L299.4,170.6 L304.7,168.8 L309.9,168.8 L315.2,171.4 L319.7,172.1 L324.2,172.1 L328.7,168.3 L332.5,163.1 L335.5,158.3 L337.5,153.6 L341.3,148.4 L345.8,146.1 L351.1,146.1 L356.3,147.3 L360.8,148.4 L365.3,148.4 L371.4,146.1 L376.6,142.4 L381.1,138.6 L385.6,135.6 L390.2,132.6 L393.9,128.8 L396.9,123.6 L400.7,118.3 L403.7,113.0 L405.9,107.0 L407.3,102.4 L411.1,96.4 L414.8,91.1 L418.6,86.6 L421.6,79.8 L424.6,73.1 L427.6,68.6 L432.9,66.8 L438.1,68.6 L443.4,70.8 L448.6,67.1 L452.4,63.3 L455.4,57.3 L457.7,52.0 L460.7,46.0 L463.7,42.3 L468.6,37.6 L472.3,36.8 L476.8,40.6 L481.4,45.1 L485.1,48.8 L488.1,54.1 L491.9,59.4 L496.4,63.9 L500.9,67.6 L504.7,71.4 L508.7,76.4 L510.8,84.6 L513.8,93.8 L515.9,102.1 L518.6,109.2 L521.0,115.4 L524.7,115.4 L528.8,111.3 L532.3,107.2 L535.4,101.0 L538.5,95.9 L542.6,92.8 L547.7,90.8 L552.8,89.7 L557.9,86.7 L562.1,84.6 L566.2,79.5 L570.3,76.4 L573.9,73.8 L577.4,67.6 L580.8,62.9 L585.6,59.4 L590.3,55.3 L594.4,52.6 L598.5,47.8 L602.0,43.7" stroke="#0000ff" stroke-width="1.3" fill="none" stroke-dasharray="3.3 3" shape-rendering="crispEdges"/>
<line x1="0" y1="361.5" x2="619" y2="361.5" stroke="#0000ff" stroke-width="1" shape-rendering="crispEdges"/>
<path d="M1.0,364.6 L1.0,366.0 L1.3,364.7 L1.7,360.0 L2.0,367.2 L2.4,362.8 L2.7,361.7 L2.7,362.8 L3.0,362.8 L3.4,362.3 L3.7,366.0 L4.1,365.6 L4.4,364.4 L4.7,367.1 L5.1,368.7 L5.1,368.3 L5.4,368.5 L5.8,362.2 L6.1,364.4 L6.4,360.5 L6.8,360.2 L6.9,361.9 L7.1,357.1 L7.5,358.0 L7.8,357.5 L8.1,356.0 L8.2,353.7 L8.5,354.6 L8.8,356.7 L9.2,355.0 L9.5,354.4 L9.8,354.6 L10.0,358.3 L10.2,357.8 L10.5,358.7 L10.9,357.9 L11.2,360.8 L11.5,363.7 L11.8,360.1 L11.9,356.0 L12.2,359.5 L12.6,356.8 L12.9,358.2 L13.2,355.8 L13.6,356.1 L13.7,355.5 L13.9,354.9 L14.3,358.0 L14.6,358.4 L14.9,355.9 L15.3,359.0 L15.5,359.2 L15.6,355.3 L16.0,355.9 L16.3,358.6 L16.6,358.6 L17.0,360.3 L17.3,355.3 L17.7,355.6 L18.0,354.9 L18.2,354.6 L18.3,357.6 L18.7,354.9 L19.0,360.4 L19.4,357.0 L19.7,358.0 L20.0,359.2 L20.0,357.8 L20.4,358.1 L20.7,357.5 L21.1,358.1 L21.4,358.9 L21.7,355.6 L22.1,355.6 L22.4,358.5 L22.8,356.2 L22.8,358.3 L23.1,357.6 L23.4,358.8 L23.8,360.4 L24.1,360.7 L24.5,359.3 L24.8,363.6 L25.1,359.0 L25.5,360.3 L25.5,361.0 L25.8,362.9 L26.2,362.7 L26.5,364.3 L26.8,362.1 L27.2,365.5 L27.5,366.7 L27.9,363.2 L28.2,368.6 L28.2,367.4 L28.5,365.6 L28.9,364.6 L29.2,364.8 L29.6,362.6 L29.9,363.3 L30.2,362.6 L30.6,359.7 L30.9,360.8 L31.0,360.1 L31.3,363.4 L31.6,358.7 L31.9,358.1 L32.3,359.7 L32.6,357.1 L33.0,357.0 L33.3,354.7 L33.6,352.8 L33.7,356.4 L34.0,355.0 L34.3,356.3 L34.7,356.6 L35.0,354.4 L35.3,354.3 L35.7,352.6 L36.0,352.6 L36.4,354.6 L36.7,353.8 L37.0,352.4 L37.0,353.0 L37.4,355.9 L37.7,357.6 L38.1,356.6 L38.4,358.7 L38.6,358.3 L38.7,358.6 L39.1,354.9 L39.4,359.9 L39.8,356.4 L40.1,358.9 L40.4,361.8 L40.8,357.0 L41.1,358.4 L41.5,358.1 L41.8,355.0 L41.9,358.3 L42.1,360.0 L42.5,362.4 L42.8,361.7 L43.2,365.5 L43.5,360.3 L43.8,364.7 L44.2,367.5 L44.5,366.8 L44.6,366.4 L44.9,365.6 L45.2,367.6 L45.5,368.2 L45.9,364.7 L46.2,368.4 L46.4,367.4 L46.6,367.3 L46.9,369.2 L47.2,368.9 L47.6,370.6 L47.9,373.0 L48.3,374.1 L48.6,374.0 L48.8,375.6 L48.9,372.6 L49.3,373.8 L49.6,374.9 L50.0,374.6 L50.3,371.9 L50.6,372.6 L51.0,371.2 L51.0,371.0 L51.3,369.1 L51.7,370.3 L52.0,368.4 L52.3,367.4 L52.7,367.1 L53.0,362.1 L53.4,364.3 L53.7,363.7 L53.7,363.0 L54.0,362.5 L54.4,363.0 L54.7,363.5 L55.1,362.3 L55.4,363.4 L55.6,361.9 L55.7,361.3 L56.1,360.1 L56.4,366.6 L56.8,365.4 L57.1,368.2 L57.4,367.9 L57.8,371.3 L57.9,371.0 L58.1,368.8 L58.5,367.4 L58.8,365.8 L59.1,362.6 L59.2,365.5 L59.5,366.8 L59.8,365.1 L60.2,369.7 L60.5,368.1 L60.8,369.4 L61.0,371.9 L61.2,371.5 L61.5,369.9 L61.9,368.0 L62.2,363.8 L62.5,363.0 L62.9,363.9 L63.2,358.3 L63.2,357.3 L63.6,358.9 L63.9,363.1 L64.2,364.6 L64.6,370.0 L64.9,369.8 L65.0,371.0 L65.3,371.3 L65.6,371.5 L65.9,368.8 L66.3,368.9 L66.6,367.7 L67.0,365.1 L67.3,364.5 L67.4,364.6 L67.6,361.9 L68.0,364.5 L68.3,362.9 L68.7,365.0 L69.0,361.8 L69.3,360.8 L69.7,360.5 L70.0,358.1 L70.1,358.3 L70.4,357.0 L70.7,357.3 L71.0,357.1 L71.4,358.3 L71.7,355.9 L72.1,357.5 L72.4,359.4 L72.5,356.4 L72.7,356.9 L73.1,356.8 L73.4,358.6 L73.8,357.4 L74.1,357.4 L74.4,357.8 L74.8,356.3 L75.0,360.1 L75.1,360.3 L75.5,361.5 L75.8,364.5 L76.1,364.8 L76.5,365.6 L76.8,367.7 L77.2,369.4 L77.4,369.2 L77.5,367.7 L77.8,368.6 L78.2,366.4 L78.5,366.4 L78.9,363.1 L79.2,362.8 L79.2,362.4 L79.5,367.2 L79.9,363.7 L80.2,366.0 L80.6,367.5 L80.9,369.4 L81.2,371.5 L81.4,370.1 L81.6,372.9 L81.9,370.8 L82.3,368.4 L82.6,366.7 L82.9,367.2 L83.3,366.3 L83.6,366.7 L83.8,366.4 L84.0,364.9 L84.3,366.6 L84.6,367.4 L85.0,363.4 L85.3,363.5 L85.7,357.6 L86.0,360.5 L86.3,360.8 L86.5,359.2 L86.7,358.8 L87.0,358.9 L87.4,357.9 L87.7,354.3 L88.0,354.9 L88.4,350.3 L88.7,352.9 L89.1,350.6 L89.3,351.9 L89.4,352.7 L89.7,352.3 L90.1,352.1 L90.4,351.9 L90.8,350.4 L91.1,354.4 L91.4,347.2 L91.6,350.6 L91.8,352.1 L92.1,351.3 L92.5,354.0 L92.8,354.3 L93.1,353.3 L93.5,356.9 L93.8,358.3 L93.8,356.1 L94.2,358.1 L94.5,360.6 L94.8,361.8 L95.2,363.1 L95.5,365.1 L95.6,364.6 L95.9,361.3 L96.2,365.4 L96.5,364.7 L96.9,364.8 L97.2,365.8 L97.5,365.3 L97.6,364.3 L97.9,368.4 L98.2,366.6 L98.6,366.6 L98.9,366.2 L99.3,366.1 L99.6,367.5 L99.9,366.2 L100.1,367.4 L100.3,368.0 L100.6,366.4 L101.0,364.8 L101.3,364.6 L101.6,366.8 L102.0,361.4 L102.2,362.3 L102.3,362.0 L102.7,361.1 L103.0,360.4 L103.3,361.6 L103.7,359.6 L104.0,358.8 L104.2,358.8 L104.4,358.0 L104.7,359.1 L105.0,361.1 L105.4,359.7 L105.7,362.3 L106.1,357.7 L106.4,359.5 L106.7,364.0 L106.9,362.3 L107.1,363.2 L107.4,364.4 L107.8,367.0 L108.1,366.1 L108.4,365.7 L108.8,363.9 L108.9,365.3 L109.1,365.5 L109.5,360.2 L109.8,364.5 L110.1,359.2 L110.4,361.2 L110.5,360.8 L110.8,364.7 L111.2,366.3 L111.4,368.4 L111.5,367.6 L111.8,369.7 L112.2,365.5 L112.5,359.3 L112.9,359.7 L113.2,356.9 L113.4,357.1 L113.5,356.9 L113.9,358.9 L114.2,358.6 L114.6,359.7 L114.9,359.7 L115.2,361.8 L115.5,361.2 L115.6,358.4 L115.9,359.7 L116.3,357.6 L116.6,358.9 L116.9,355.6 L117.3,355.9 L117.6,355.4 L118.0,353.9 L118.0,354.1 L118.3,356.2 L118.6,356.1 L119.0,359.8 L119.3,358.4 L119.6,358.2 L119.7,358.9 L120.0,357.3 L120.3,356.4 L120.7,353.3 L121.0,356.5 L121.4,350.6 L121.6,351.0 L121.7,352.5 L122.0,348.6 L122.4,346.5 L122.7,346.4 L123.1,339.1 L123.3,340.7 L123.4,341.2 L123.7,340.0 L124.1,336.1 L124.4,335.4 L124.7,332.5 L124.8,331.7 L125.1,332.6 L125.4,331.8 L125.8,329.6 L126.1,328.4 L126.1,329.3 L126.5,332.1 L126.8,334.8 L127.1,334.8 L127.5,337.3 L127.8,340.7 L127.8,339.3 L128.2,339.0 L128.5,336.0 L128.8,337.9 L129.2,332.2 L129.4,332.5 L129.5,331.8 L129.9,334.1 L130.2,335.7 L130.5,337.9 L130.9,335.7 L130.9,338.7 L131.2,339.8 L131.6,346.2 L131.9,350.0 L131.9,349.0 L132.2,349.7 L132.6,348.8 L132.9,348.5 L133.3,349.4 L133.6,349.7 L133.9,348.7 L134.3,351.7 L134.6,349.1 L135.0,347.6 L135.0,347.9 L135.3,349.9 L135.6,351.7 L136.0,351.6 L136.3,352.4 L136.7,352.8 L137.0,355.1 L137.0,355.3 L137.3,357.5 L137.7,353.3 L138.0,353.7 L138.4,353.8 L138.7,351.8 L139.0,348.0 L139.4,349.7 L139.7,349.8 L140.1,349.5 L140.1,348.9 L140.4,351.8 L140.7,352.3 L141.1,354.4 L141.4,356.0 L141.7,357.1 L141.8,361.0 L142.1,358.0 L142.4,357.1 L142.8,357.3 L143.1,359.4 L143.5,360.6 L143.8,360.2 L144.1,359.5 L144.2,360.2 L144.5,361.8 L144.8,359.9 L145.2,362.1 L145.5,358.7 L145.8,360.3 L146.2,360.3 L146.5,361.1 L146.9,362.0 L147.2,363.6 L147.3,362.3 L147.5,365.8 L147.9,366.3 L148.2,364.5 L148.6,367.2 L148.9,369.4 L149.2,369.5 L149.6,369.4 L149.9,371.5 L149.9,371.6 L150.3,366.9 L150.6,368.8 L150.9,366.5 L151.3,365.1 L151.4,364.3 L151.6,363.2 L152.0,361.7 L152.3,360.3 L152.6,359.1 L153.0,358.4 L153.3,357.1 L153.4,357.1 L153.7,358.4 L154.0,357.9 L154.3,356.8 L154.7,353.2 L155.0,355.3 L155.4,355.2 L155.7,356.1 L156.0,356.3 L156.4,354.6 L156.5,356.1 L156.7,355.3 L157.1,356.0 L157.4,351.8 L157.7,355.4 L158.1,352.9 L158.4,352.2 L158.8,355.0 L159.1,353.2 L159.4,351.1 L159.5,352.0 L159.8,351.4 L160.1,350.0 L160.5,349.9 L160.8,351.8 L161.1,351.3 L161.5,348.7 L161.8,348.1 L162.2,349.0 L162.5,348.4 L162.6,347.9 L162.8,349.9 L163.2,347.9 L163.5,351.1 L163.9,350.4 L164.2,350.5 L164.5,352.7 L164.9,351.4 L165.2,352.0 L165.6,354.4 L165.7,354.1 L165.9,353.9 L166.2,347.5 L166.6,344.3 L166.9,343.1 L167.1,340.7 L167.3,340.3 L167.6,341.4 L167.9,332.1 L168.3,333.9 L168.4,332.5 L168.6,337.2 L169.0,335.9 L169.3,335.8 L169.6,341.6 L170.0,346.2 L170.3,348.5 L170.4,347.9 L170.7,347.7 L171.0,346.4 L171.3,344.7 L171.7,340.8 L172.0,340.0 L172.4,338.0 L172.5,337.7 L172.7,334.9 L173.0,334.9 L173.4,332.9 L173.7,330.5 L174.1,329.0 L174.4,328.6 L174.7,329.6 L174.9,325.4 L175.1,326.3 L175.4,327.3 L175.8,330.2 L176.1,331.1 L176.4,332.0 L176.6,333.6 L176.8,332.2 L177.1,330.5 L177.5,327.0 L177.8,328.3 L178.0,326.4 L178.1,326.0 L178.5,319.7 L178.8,324.7 L179.2,318.9 L179.4,317.2 L179.5,319.6 L179.8,320.9 L180.2,324.0 L180.5,329.4 L180.9,332.0 L181.1,334.6 L181.2,336.0 L181.5,339.2 L181.9,340.7 L182.2,343.1 L182.5,345.9 L182.6,343.6 L182.9,343.6 L183.2,338.7 L183.6,337.4 L183.9,332.2 L184.1,331.5 L184.3,336.4 L184.6,336.5 L184.9,336.3 L185.2,342.8 L185.3,343.4 L185.6,346.1 L186.0,352.2 L186.2,354.1 L186.3,355.1 L186.6,357.7 L187.0,358.4 L187.3,358.9 L187.6,361.2 L187.7,362.3 L188.0,363.8 L188.3,364.3 L188.7,368.2 L189.0,367.5 L189.3,371.5 L189.4,370.2 L189.7,366.2 L190.0,361.2 L190.3,359.2 L190.4,358.1 L190.7,356.6 L191.1,358.2 L191.4,356.5 L191.7,353.0 L191.7,353.2 L192.1,353.8 L192.4,356.2 L192.8,359.7 L193.0,360.2 L193.1,360.3 L193.4,358.1 L193.8,360.6 L194.1,359.4 L194.5,356.2 L194.8,358.1 L195.1,359.0 L195.5,358.4 L195.7,358.9 L195.8,359.2 L196.2,358.9 L196.5,360.5 L196.8,364.3 L197.2,361.6 L197.5,363.0 L197.9,367.0 L198.2,364.1 L198.2,365.4 L198.5,366.5 L198.9,368.1 L199.2,370.4 L199.6,374.5 L199.9,376.7 L200.2,377.4 L200.2,377.8 L200.6,378.6 L200.9,375.1 L201.3,373.9 L201.6,377.0 L201.9,372.8 L202.3,371.3 L202.3,371.2 L202.6,370.9 L203.0,369.4 L203.3,365.7 L203.6,364.3 L203.9,364.1 L204.0,363.7 L204.3,363.6 L204.7,363.7 L205.0,366.2 L205.3,366.5 L205.7,366.2 L206.0,367.1 L206.0,368.0 L206.4,366.0 L206.7,363.4 L207.0,362.8 L207.4,358.9 L207.7,356.9 L208.0,356.9 L208.1,357.9 L208.4,353.6 L208.7,351.1 L209.1,353.0 L209.4,347.5 L209.8,346.1 L209.9,344.6 L210.1,348.6 L210.4,345.4 L210.8,348.9 L211.1,347.6 L211.5,349.9 L211.5,350.7 L211.8,351.3 L212.1,350.9 L212.5,349.6 L212.8,349.3 L213.0,347.7 L213.2,347.1 L213.5,357.2 L213.8,361.8 L214.0,364.1 L214.2,369.5 L214.5,382.6 L214.6,385.6 L214.9,392.2 L215.2,391.7 L215.5,397.7 L215.6,396.8 L215.9,392.7 L216.2,394.1 L216.6,390.5 L216.9,386.8 L217.0,387.6 L217.2,389.7 L217.6,389.6 L217.9,393.4 L218.3,394.3 L218.3,394.8 L218.6,390.9 L218.9,388.6 L219.3,387.3 L219.6,381.8 L219.7,381.5 L220.0,381.8 L220.3,379.7 L220.6,378.2 L221.0,376.2 L221.3,376.0 L221.7,375.9 L221.8,375.3 L222.0,377.9 L222.3,375.8 L222.7,378.0 L223.0,378.7 L223.4,379.0 L223.7,378.5 L223.8,379.4 L224.0,375.6 L224.4,376.7 L224.7,374.0 L225.1,370.2 L225.2,370.2 L225.4,369.1 L225.7,367.0 L226.1,363.5 L226.4,365.0 L226.8,361.0 L226.9,360.0 L227.1,358.2 L227.4,356.9 L227.8,355.1 L228.1,354.8 L228.5,353.9 L228.8,351.6 L228.9,350.7 L229.1,353.5 L229.5,349.0 L229.8,347.9 L230.2,349.8 L230.5,351.4 L230.8,352.6 L231.0,351.8 L231.2,346.9 L231.5,350.7 L231.9,348.2 L232.2,347.7 L232.5,343.6 L232.9,341.8 L233.0,341.5 L233.2,341.0 L233.6,343.5 L233.9,344.4 L234.2,346.7 L234.6,346.0 L234.9,349.3 L235.1,348.7 L235.3,348.8 L235.6,347.5 L235.9,346.2 L236.3,345.1 L236.6,346.6 L237.0,343.3 L237.3,344.4 L237.5,343.6 L237.6,342.5 L238.0,346.1 L238.3,345.9 L238.7,348.6 L239.0,348.0 L239.3,350.3 L239.6,351.8 L239.7,353.4 L240.0,352.4 L240.4,353.5 L240.7,357.0 L241.0,354.9 L241.4,355.8 L241.6,357.9 L241.7,356.8 L242.1,357.0 L242.4,355.2 L242.7,355.1 L243.1,354.7 L243.4,353.5 L243.7,353.8 L243.8,353.4 L244.1,355.6 L244.4,352.1 L244.8,354.5 L245.1,356.1 L245.3,356.9 L245.5,353.3 L245.8,354.5 L246.1,354.1 L246.5,350.3 L246.8,349.0 L247.2,349.0 L247.4,346.6 L247.5,346.6 L247.8,344.3 L248.2,343.6 L248.5,343.0 L248.9,342.1 L249.2,340.2 L249.5,339.1 L249.9,343.4 L250.0,340.5 L250.2,339.6 L250.6,345.5 L250.9,344.2 L251.2,347.0 L251.5,348.7 L251.6,346.6 L251.9,356.6 L252.3,361.9 L252.5,366.1 L252.6,364.5 L252.9,362.6 L253.3,362.1 L253.6,357.5 L253.9,356.9 L254.0,353.4 L254.3,354.0 L254.6,352.2 L255.0,348.8 L255.3,345.9 L255.6,344.6 L255.7,345.4 L256.0,344.3 L256.3,343.4 L256.7,337.4 L257.0,337.5 L257.2,333.3 L257.4,335.4 L257.7,336.1 L258.0,340.8 L258.4,340.8 L258.6,343.6 L258.7,343.6 L259.1,345.4 L259.4,340.0 L259.7,338.5 L260.1,338.2 L260.1,337.4 L260.4,338.9 L260.8,344.8 L261.1,344.5 L261.4,346.6 L261.7,346.6 L261.8,348.6 L262.1,347.7 L262.5,348.4 L262.8,347.0 L263.1,348.0 L263.5,348.0 L263.8,348.7 L263.8,349.8 L264.2,347.4 L264.5,350.3 L264.8,354.7 L265.2,353.5 L265.5,355.2 L265.8,356.9 L265.9,355.8 L266.2,354.0 L266.5,357.1 L266.9,356.6 L267.2,347.9 L267.5,350.7 L267.6,350.0 L267.9,354.5 L268.2,356.4 L268.6,361.6 L268.9,363.0 L268.9,364.7 L269.3,366.1 L269.6,369.8 L269.9,376.1 L270.3,379.3 L270.3,379.4 L270.6,380.5 L271.0,383.1 L271.3,385.1 L271.6,388.5 L272.0,391.0 L272.0,390.7 L272.3,390.5 L272.7,387.9 L273.0,387.4 L273.3,383.3 L273.7,383.6 L274.0,381.5 L274.0,382.0 L274.4,383.3 L274.7,382.3 L275.0,383.8 L275.4,382.3 L275.7,385.4 L276.1,381.5 L276.1,384.5 L276.4,382.5 L276.7,381.6 L277.1,377.9 L277.4,379.6 L277.5,375.3 L277.8,373.6 L278.1,370.8 L278.4,370.2 L278.8,368.5 L279.1,367.1 L279.1,367.9 L279.5,365.3 L279.8,365.0 L280.1,364.5 L280.5,362.6 L280.8,360.8 L281.2,357.6 L281.2,361.0 L281.5,359.8 L281.8,359.6 L282.2,359.0 L282.5,356.0 L282.9,355.1 L283.2,354.8 L283.2,353.5 L283.5,352.8 L283.9,353.4 L284.2,350.8 L284.6,347.1 L284.9,346.6 L284.9,347.7 L285.2,351.0 L285.6,352.6 L285.9,351.6 L286.3,351.2 L286.6,352.9 L286.9,355.3 L287.0,354.8 L287.3,354.7 L287.6,357.0 L288.0,357.5 L288.3,356.4 L288.6,357.4 L289.0,359.1 L289.1,357.9 L289.3,358.7 L289.7,360.2 L290.0,360.0 L290.3,365.0 L290.7,362.6 L290.7,364.1 L291.0,362.8 L291.4,362.6 L291.7,363.2 L292.0,362.2 L292.4,363.8 L292.7,362.2 L292.8,362.0 L293.1,362.2 L293.4,363.7 L293.7,364.7 L294.1,364.6 L294.4,368.0 L294.8,365.7 L294.8,366.1 L295.1,363.7 L295.4,362.3 L295.8,363.3 L296.1,360.4 L296.5,363.0 L296.8,362.8 L296.9,358.9 L297.1,354.2 L297.5,358.2 L297.8,354.9 L298.2,355.9 L298.5,355.0 L298.8,352.5 L298.9,352.8 L299.2,354.5 L299.5,354.4 L299.9,355.4 L300.2,355.3 L300.5,354.4 L300.9,357.6 L301.2,358.8 L301.4,356.9 L301.6,357.4 L301.9,354.7 L302.2,356.0 L302.6,351.3 L302.9,353.3 L303.3,355.1 L303.6,351.2 L303.9,351.8 L303.9,353.3 L304.3,355.1 L304.6,354.7 L305.0,357.1 L305.3,360.5 L305.5,361.0 L305.6,361.8 L306.0,362.3 L306.3,364.6 L306.7,365.5 L307.0,368.0 L307.1,369.2 L307.3,370.8 L307.7,371.6 L308.0,374.9 L308.4,375.4 L308.6,376.4 L308.7,373.4 L309.0,377.2 L309.4,376.8 L309.7,380.0 L310.1,378.8 L310.2,379.4 L310.4,379.6 L310.7,375.5 L311.1,375.7 L311.4,373.7 L311.6,372.3 L311.8,372.2 L312.1,371.6 L312.4,372.7 L312.8,372.4 L313.1,374.1 L313.5,370.9 L313.7,370.2 L313.8,369.7 L314.1,367.9 L314.5,369.6 L314.8,369.9 L315.2,367.1 L315.5,365.6 L315.7,366.1 L315.8,369.4 L316.2,363.5 L316.5,362.9 L316.9,363.1 L317.2,361.1 L317.4,360.0 L317.5,359.5 L317.9,358.1 L318.2,357.8 L318.6,354.4 L318.8,353.8 L318.9,353.0 L319.2,354.9 L319.6,353.8 L319.9,356.0 L320.3,358.1 L320.6,354.6 L320.9,357.9 L320.9,357.5 L321.3,360.5 L321.6,358.5 L322.0,355.5 L322.3,359.9 L322.6,359.4 L322.9,360.0 L323.0,360.5 L323.3,356.3 L323.7,351.9 L324.0,355.5 L324.3,351.2 L324.5,350.7 L324.7,347.3 L325.0,349.2 L325.4,347.3 L325.7,345.9 L326.0,343.6 L326.0,344.0 L326.4,346.8 L326.7,343.0 L327.1,340.6 L327.4,340.6 L327.7,339.4 L328.0,340.5 L328.1,341.9 L328.4,342.8 L328.8,342.7 L329.1,344.2 L329.4,345.7 L329.8,347.7 L330.1,348.7 L330.1,350.1 L330.5,350.4 L330.8,344.8 L331.1,344.6 L331.5,346.0 L331.8,342.7 L332.1,341.5 L332.2,343.5 L332.5,339.7 L332.8,341.0 L333.2,339.7 L333.5,337.9 L333.9,337.5 L334.2,336.7 L334.5,334.6 L334.6,335.4 L334.9,336.5 L335.2,341.2 L335.6,342.4 L335.9,345.1 L336.2,348.7 L336.2,346.8 L336.6,352.5 L336.9,351.4 L337.3,351.5 L337.6,355.0 L337.9,350.7 L338.3,352.2 L338.3,352.8 L338.6,355.2 L339.0,355.4 L339.3,348.9 L339.6,349.1 L340.0,350.6 L340.3,350.9 L340.7,350.8 L340.7,350.7 L341.0,352.6 L341.3,354.7 L341.7,355.0 L342.0,359.4 L342.4,361.1 L342.4,357.9 L342.7,361.3 L343.0,361.1 L343.4,364.9 L343.7,366.0 L344.1,367.2 L344.4,370.0 L344.4,370.2 L344.7,367.6 L345.1,363.8 L345.4,364.2 L345.8,362.6 L346.1,360.7 L346.4,358.0 L346.5,360.0 L346.8,361.1 L347.1,361.9 L347.5,360.7 L347.8,360.8 L348.1,362.0 L348.5,364.8 L348.5,362.0 L348.8,364.2 L349.2,368.6 L349.5,365.2 L349.8,368.5 L350.2,369.9 L350.5,374.3 L350.6,371.2 L350.9,369.8 L351.2,368.7 L351.5,366.7 L351.9,364.5 L352.2,363.3 L352.6,363.7 L352.6,363.0 L352.9,364.6 L353.2,365.1 L353.6,364.3 L353.9,362.4 L354.3,363.9 L354.6,360.6 L354.9,360.9 L355.3,363.7 L355.6,362.2 L355.7,365.1 L356.0,365.9 L356.3,363.5 L356.6,363.0 L357.0,361.8 L357.3,361.5 L357.7,363.1 L358.0,360.2 L358.3,361.1 L358.4,361.0 L358.7,361.4 L359.0,367.2 L359.4,363.8 L359.7,367.5 L360.0,369.6 L360.4,371.1 L360.4,371.2 L360.7,365.9 L361.1,367.8 L361.4,365.7 L361.7,363.9 L362.1,363.8 L362.4,362.9 L362.5,362.0 L362.8,362.0 L363.1,360.6 L363.4,359.5 L363.8,357.2 L364.1,358.1 L364.5,353.8 L364.8,353.9 L364.9,354.8 L365.1,355.2 L365.5,354.9 L365.8,353.8 L366.2,353.6 L366.5,353.0 L366.8,353.0 L367.2,350.7 L367.5,351.1 L367.9,351.1 L368.0,350.7 L368.2,351.3 L368.5,352.8 L368.9,356.5 L369.2,355.9 L369.6,358.1 L369.9,362.3 L370.2,362.2 L370.6,362.3 L370.7,363.0 L370.9,361.1 L371.3,359.6 L371.6,361.3 L371.9,359.8 L372.3,358.2 L372.6,359.2 L373.0,356.1 L373.1,356.9 L373.3,357.8 L373.6,351.8 L374.0,356.8 L374.3,353.8 L374.7,353.4 L375.0,352.0 L375.3,353.7 L375.7,347.1 L376.0,347.8 L376.2,347.7 L376.4,347.5 L376.7,350.4 L377.0,348.8 L377.4,351.3 L377.7,349.9 L378.1,351.6 L378.4,348.8 L378.7,350.9 L378.9,352.8 L379.1,353.0 L379.4,352.9 L379.8,351.2 L380.1,351.0 L380.4,348.7 L380.8,349.5 L380.9,350.7 L381.1,350.6 L381.5,351.0 L381.8,351.3 L382.1,353.1 L382.5,356.1 L382.8,352.7 L383.1,352.9 L383.2,350.1 L383.5,354.9 L383.8,355.0 L384.2,352.5 L384.5,355.3 L384.9,358.2 L385.2,355.3 L385.5,357.1 L385.9,358.8 L386.1,359.1 L386.2,358.2 L386.6,357.8 L386.9,358.9 L387.2,358.2 L387.6,353.5 L387.9,356.9 L388.3,357.2 L388.6,359.6 L388.9,356.1 L389.2,355.0 L389.3,353.5 L389.6,353.6 L390.0,352.6 L390.3,352.7 L390.6,350.2 L391.0,352.9 L391.3,351.9 L391.7,347.6 L392.0,351.2 L392.3,349.8 L392.3,349.2 L392.7,346.2 L393.0,348.5 L393.4,350.4 L393.7,344.5 L394.0,345.9 L394.4,345.2 L394.7,345.4 L395.1,342.1 L395.4,341.3 L395.4,342.7 L395.7,340.0 L396.1,337.9 L396.4,339.0 L396.8,335.2 L397.1,335.7 L397.4,333.4 L397.4,332.6 L397.8,333.0 L398.1,336.8 L398.5,340.0 L398.8,341.6 L399.1,343.7 L399.1,342.3 L399.5,343.7 L399.8,342.5 L400.2,340.2 L400.5,337.0 L400.8,336.5 L401.2,336.1 L401.5,335.5 L401.5,337.1 L401.9,336.2 L402.2,336.3 L402.5,333.9 L402.9,335.4 L403.2,337.3 L403.6,334.4 L403.6,334.5 L403.9,331.7 L404.2,329.6 L404.6,328.1 L404.9,324.9 L405.3,322.8 L405.6,319.3 L405.6,319.1 L405.9,322.4 L406.3,328.0 L406.6,334.8 L407.0,333.6 L407.0,335.5 L407.3,337.8 L407.6,340.2 L408.0,345.9 L408.3,346.4 L408.7,347.9 L408.7,347.8 L409.0,345.9 L409.3,340.4 L409.7,340.0 L409.7,339.6 L410.0,345.2 L410.4,351.9 L410.7,356.2 L411.0,361.5 L411.1,363.2 L411.4,362.2 L411.7,358.5 L412.1,356.8 L412.4,354.2 L412.7,352.9 L412.8,351.9 L413.1,351.7 L413.4,351.0 L413.8,348.9 L414.1,350.5 L414.4,348.1 L414.8,349.5 L414.8,348.8 L415.1,347.6 L415.5,344.2 L415.8,345.1 L416.1,345.1 L416.5,343.5 L416.8,344.9 L416.9,343.7 L417.2,342.6 L417.5,342.0 L417.8,341.9 L418.2,340.0 L418.5,336.9 L418.9,335.9 L419.2,337.3 L419.3,335.5 L419.5,332.7 L419.9,330.6 L420.2,333.5 L420.6,333.1 L420.9,332.1 L421.2,331.7 L421.6,330.9 L421.9,329.4 L422.0,329.3 L422.3,327.8 L422.6,331.9 L422.9,330.0 L423.3,329.6 L423.6,330.4 L424.0,324.4 L424.1,328.3 L424.3,330.3 L424.6,337.8 L425.0,338.8 L425.3,343.0 L425.5,345.7 L425.7,346.6 L426.0,352.0 L426.3,354.5 L426.7,360.6 L426.7,360.1 L427.0,362.1 L427.4,367.9 L427.7,365.8 L428.0,373.4 L428.2,374.4 L428.4,376.8 L428.7,383.7 L429.1,390.2 L429.2,389.8 L429.4,385.6 L429.7,381.2 L430.1,379.2 L430.4,376.2 L430.6,370.3 L430.8,369.5 L431.1,368.5 L431.4,374.4 L431.8,373.8 L432.1,376.4 L432.3,375.5 L432.5,374.1 L432.8,372.1 L433.1,367.8 L433.5,363.7 L433.8,363.6 L434.2,355.9 L434.3,356.0 L434.5,360.5 L434.8,358.5 L435.2,361.4 L435.5,364.9 L435.9,367.6 L436.2,368.2 L436.4,368.3 L436.5,370.0 L436.9,367.4 L437.2,364.8 L437.6,364.6 L437.9,361.1 L438.2,361.4 L438.4,363.2 L438.6,362.3 L438.9,360.6 L439.3,359.1 L439.6,359.1 L439.9,354.0 L440.3,356.2 L440.5,355.0 L440.6,356.7 L441.0,354.6 L441.3,352.2 L441.6,353.4 L442.0,351.9 L442.3,351.6 L442.5,350.9 L442.7,349.5 L443.0,349.7 L443.3,350.2 L443.7,348.9 L444.0,348.5 L444.4,347.6 L444.5,345.7 L444.7,350.2 L445.0,354.7 L445.4,358.8 L445.6,363.2 L445.7,361.2 L446.1,361.5 L446.4,360.7 L446.7,355.7 L447.1,356.5 L447.4,355.2 L447.6,356.0 L447.8,359.3 L448.1,357.2 L448.4,358.0 L448.8,361.7 L449.1,359.0 L449.5,362.5 L449.7,362.1 L449.8,359.6 L450.1,357.4 L450.5,352.0 L450.8,348.9 L451.2,345.1 L451.3,343.7 L451.5,343.8 L451.8,341.3 L452.2,333.9 L452.5,336.3 L452.9,333.4 L453.2,330.0 L453.4,329.3 L453.5,327.5 L453.9,331.4 L454.2,327.6 L454.6,323.7 L454.9,322.8 L455.2,323.7 L455.4,322.2 L455.6,318.2 L455.9,320.7 L456.3,322.7 L456.6,320.8 L456.9,320.3 L457.3,319.7 L457.5,321.1 L457.6,322.3 L458.0,327.4 L458.3,331.9 L458.6,335.7 L458.9,337.5 L459.0,336.6 L459.3,338.4 L459.7,340.1 L460.0,340.7 L460.3,342.3 L460.7,344.8 L460.9,345.7 L461.0,346.3 L461.4,347.2 L461.7,350.0 L462.0,351.9 L462.4,353.3 L462.7,354.0 L463.0,355.0 L463.1,351.9 L463.4,352.2 L463.7,357.2 L464.1,359.0 L464.4,358.9 L464.8,357.8 L465.0,359.1 L465.1,356.2 L465.4,360.0 L465.8,356.8 L466.1,356.9 L466.5,358.5 L466.8,359.4 L467.1,358.0 L467.1,358.7 L467.5,361.7 L467.8,361.8 L468.2,362.7 L468.5,367.5 L468.5,368.3 L468.8,367.7 L469.2,366.3 L469.5,364.8 L469.9,365.4 L470.0,366.0 L470.2,366.7 L470.5,371.2 L470.9,370.8 L471.2,374.8 L471.6,375.7 L471.9,374.7 L472.0,375.2 L472.2,372.3 L472.6,372.1 L472.9,370.1 L473.3,363.8 L473.6,366.6 L473.7,365.0 L473.9,367.6 L474.3,365.2 L474.6,366.0 L475.0,368.5 L475.3,367.9 L475.6,368.3 L475.7,369.1 L476.0,368.7 L476.3,369.1 L476.7,369.2 L477.0,372.1 L477.2,372.1 L477.3,373.6 L477.7,377.3 L478.0,377.7 L478.4,382.8 L478.6,386.5 L478.7,386.2 L479.0,380.9 L479.4,371.9 L479.7,370.5 L479.8,369.1 L480.1,367.6 L480.4,367.8 L480.7,368.4 L481.1,369.4 L481.4,367.5 L481.8,368.5 L482.1,368.0 L482.3,367.0 L482.4,367.9 L482.8,369.4 L483.1,369.2 L483.5,371.6 L483.8,369.2 L484.1,370.7 L484.3,371.1 L484.5,372.6 L484.8,375.1 L485.2,376.6 L485.5,376.9 L485.8,378.4 L486.0,379.3 L486.2,379.3 L486.5,383.6 L486.9,385.1 L487.2,388.5 L487.4,390.6 L487.5,393.5 L487.9,402.1 L488.0,404.9 L488.2,402.1 L488.6,398.0 L488.9,391.0 L489.1,388.5 L489.2,388.2 L489.6,382.1 L489.9,381.6 L490.3,379.7 L490.5,378.3 L490.6,379.2 L490.9,376.3 L491.3,374.7 L491.6,373.5 L492.0,369.4 L492.1,370.1 L492.3,369.7 L492.6,367.5 L493.0,367.6 L493.3,366.5 L493.7,369.5 L494.0,365.4 L494.2,365.0 L494.3,363.3 L494.7,366.4 L495.0,369.4 L495.4,373.2 L495.6,371.1 L495.7,369.9 L496.0,367.8 L496.4,362.6 L496.7,360.3 L497.0,360.9 L497.1,361.8 L497.4,359.1 L497.7,356.0 L498.1,357.8 L498.3,355.7 L498.4,356.2 L498.8,358.5 L499.1,361.6 L499.4,357.0 L499.7,360.9 L499.8,361.1 L500.1,361.4 L500.5,360.9 L500.8,362.6 L501.1,362.9 L501.1,364.2 L501.5,366.9 L501.8,366.7 L502.2,372.4 L502.4,372.1 L502.5,372.7 L502.8,376.1 L503.2,376.3 L503.5,378.7 L503.8,380.3 L503.9,384.7 L504.2,382.3 L504.5,385.6 L504.9,389.6 L505.2,392.6 L505.2,391.6 L505.6,387.0 L505.9,386.9 L506.2,387.5 L506.5,384.4 L506.6,386.0 L506.9,392.6 L507.3,397.9 L507.3,398.8 L507.6,403.5 L507.9,403.1 L508.3,410.1 L508.3,411.1 L508.6,407.3 L509.0,402.6 L509.3,395.5 L509.3,394.7 L509.6,394.5 L510.0,388.5 L510.3,390.1 L510.7,384.2 L511.0,384.6 L511.0,386.5 L511.3,387.8 L511.7,385.6 L512.0,383.4 L512.0,384.4 L512.4,385.6 L512.7,384.8 L513.0,385.6 L513.4,389.7 L513.4,390.6 L513.7,389.2 L514.1,388.8 L514.4,385.0 L514.7,384.4 L514.7,385.7 L515.1,386.7 L515.4,390.6 L515.8,390.4 L516.1,393.1 L516.1,393.6 L516.4,396.1 L516.8,397.9 L517.1,400.8 L517.1,401.5 L517.5,395.8 L517.8,389.6 L518.1,387.4 L518.2,384.4 L518.5,381.0 L518.8,376.0 L519.2,373.8 L519.2,372.1 L519.5,370.4 L519.8,364.8 L520.2,363.6 L520.2,362.9 L520.5,361.2 L520.9,358.7 L521.2,358.9 L521.5,354.1 L521.9,355.9 L522.2,353.3 L522.3,352.7 L522.6,351.5 L522.9,349.5 L523.2,347.2 L523.6,347.4 L523.7,345.5 L523.9,343.6 L524.3,343.5 L524.6,343.8 L524.9,344.4 L525.3,344.0 L525.3,342.4 L525.6,341.8 L526.0,340.1 L526.3,340.5 L526.6,341.7 L527.0,339.2 L527.3,337.8 L527.4,336.3 L527.7,339.2 L528.0,340.8 L528.3,346.2 L528.7,347.5 L529.0,351.6 L529.0,347.9 L529.4,348.8 L529.7,346.2 L530.0,341.9 L530.4,339.3 L530.5,339.3 L530.7,338.0 L531.1,337.4 L531.4,338.8 L531.7,341.0 L532.1,337.8 L532.4,339.0 L532.5,337.3 L532.8,336.2 L533.1,337.1 L533.4,336.8 L533.8,337.1 L534.1,335.9 L534.5,333.6 L534.5,336.3 L534.8,337.4 L535.1,342.6 L535.5,339.4 L535.8,341.3 L536.2,343.9 L536.5,342.8 L536.6,344.5 L536.8,346.8 L537.2,349.6 L537.5,350.9 L537.9,353.5 L538.0,355.7 L538.2,356.1 L538.5,354.0 L538.9,352.9 L539.2,350.7 L539.3,351.6 L539.6,352.1 L539.9,357.2 L540.2,357.5 L540.6,360.4 L540.7,361.9 L540.9,361.4 L541.3,362.1 L541.6,358.0 L541.9,355.7 L542.1,355.7 L542.3,359.5 L542.6,358.5 L543.0,359.5 L543.3,359.5 L543.6,362.8 L543.8,362.9 L544.0,361.4 L544.3,365.4 L544.7,367.5 L545.0,367.7 L545.3,367.7 L545.4,369.1 L545.7,366.9 L546.0,368.3 L546.4,369.3 L546.7,363.3 L547.0,367.1 L547.4,362.7 L547.5,361.9 L547.7,361.6 L548.1,361.7 L548.4,362.6 L548.7,359.8 L549.1,361.6 L549.4,364.1 L549.5,360.9 L549.8,359.8 L550.1,360.5 L550.4,357.3 L550.8,359.8 L551.1,358.3 L551.5,356.9 L551.6,355.7 L551.8,356.1 L552.1,356.0 L552.5,355.0 L552.8,353.2 L553.2,353.2 L553.5,354.2 L553.8,349.4 L554.0,352.7 L554.2,356.4 L554.5,352.7 L554.9,354.5 L555.0,353.5 L555.2,353.6 L555.5,352.6 L555.9,351.5 L556.2,348.8 L556.6,351.2 L556.6,351.1 L556.9,355.1 L557.2,351.1 L557.6,351.4 L557.9,352.7 L558.3,354.7 L558.5,354.3 L558.6,354.4 L558.9,355.9 L559.3,354.1 L559.6,358.4 L560.0,360.8 L560.1,359.9 L560.3,358.8 L560.6,357.4 L561.0,356.3 L561.3,355.0 L561.7,354.2 L561.7,354.3 L562.0,353.3 L562.3,353.7 L562.7,353.6 L563.0,350.0 L563.4,353.7 L563.7,351.5 L563.8,351.9 L564.0,348.7 L564.4,349.2 L564.7,351.8 L565.1,348.9 L565.4,347.7 L565.7,345.4 L565.8,346.3 L566.1,348.2 L566.4,349.7 L566.8,349.3 L567.1,348.5 L567.4,349.5 L567.4,346.6 L567.8,350.8 L568.1,352.3 L568.5,352.7 L568.6,351.9 L568.8,349.4 L569.1,354.7 L569.5,354.4 L569.8,354.8 L570.2,354.7 L570.2,355.9 L570.5,357.6 L570.8,353.4 L571.2,351.1 L571.5,349.6 L571.7,349.5 L571.9,348.3 L572.2,348.7 L572.5,346.6 L572.9,347.2 L573.2,344.9 L573.3,346.3 L573.6,348.0 L573.9,349.5 L574.2,348.4 L574.6,350.8 L574.9,350.3 L574.9,350.4 L575.3,351.6 L575.6,347.0 L575.9,348.6 L576.3,344.4 L576.5,342.3 L576.6,342.8 L577.0,345.1 L577.3,342.9 L577.6,341.9 L578.0,345.7 L578.1,345.5 L578.3,346.9 L578.7,348.9 L579.0,345.0 L579.3,343.5 L579.7,344.0 L579.7,344.7 L580.0,344.7 L580.4,346.5 L580.7,347.7 L581.0,350.4 L581.3,351.1 L581.4,353.2 L581.7,355.4 L582.1,359.1 L582.1,358.3 L582.4,360.6 L582.7,360.7 L583.1,364.5 L583.4,364.7 L583.4,364.2 L583.8,364.5 L584.1,364.2 L584.4,362.3 L584.8,362.4 L585.0,361.5 L585.1,357.5 L585.5,363.7 L585.8,359.3 L586.1,362.1 L586.5,360.2 L586.8,359.5 L586.9,359.1 L587.2,360.1 L587.5,358.4 L587.8,357.6 L588.2,356.2 L588.5,358.2 L588.9,356.6 L589.2,356.3 L589.3,355.9 L589.5,356.6 L589.9,354.0 L590.2,355.3 L590.6,352.5 L590.9,353.3 L591.2,352.5 L591.6,353.2 L591.7,351.9 L591.9,351.5 L592.3,351.8 L592.6,351.2 L592.9,348.8 L593.3,349.2 L593.6,345.9 L594.0,351.7 L594.1,348.7 L594.3,346.6 L594.6,346.3 L595.0,348.5 L595.3,345.9 L595.7,345.0 L596.0,346.0 L596.1,345.5 L596.3,347.0 L596.7,350.8 L597.0,350.9 L597.4,357.0 L597.4,356.7 L597.7,352.7 L598.0,350.4 L598.4,349.2 L598.4,347.9 L598.7,347.8 L599.1,345.6 L599.4,345.0 L599.7,344.6 L600.0,343.9 L600.1,342.7 L600.4,342.0 L600.8,343.4 L601.1,341.3 L601.4,339.6 L601.6,340.7 L601.8,342.3 L602.1,338.3 L602.5,337.3 L602.8,336.3 L602.8,337.5 L603.1,341.4 L603.3,343.9" stroke="#ff0000" stroke-width="1.5" fill="none" stroke-linejoin="round" shape-rendering="crispEdges"/>
<g stroke="#000" stroke-width="1" shape-rendering="crispEdges">
<line x1="619.5" y1="0" x2="619.5" y2="421"/>
<line x1="0" y1="421.5" x2="619" y2="421.5"/>
<line x1="620" y1="7.5" x2="627" y2="7.5"/>
<line x1="620" y1="16.5" x2="627" y2="16.5"/>
<line x1="620" y1="26.5" x2="627" y2="26.5"/>
<line x1="620" y1="39.5" x2="627" y2="39.5"/>
<line x1="620" y1="52.5" x2="627" y2="52.5"/>
<line x1="620" y1="69.5" x2="627" y2="69.5"/>
<line x1="620" y1="89.5" x2="627" y2="89.5"/>
<line x1="620" y1="115.5" x2="627" y2="115.5"/>
<line x1="620" y1="151.5" x2="627" y2="151.5"/>
<line x1="620" y1="214.5" x2="627" y2="214.5"/>
<line x1="620" y1="315.5" x2="627" y2="315.5"/>
<line x1="620" y1="327.5" x2="627" y2="327.5"/>
<line x1="620" y1="338.5" x2="627" y2="338.5"/>
<line x1="620" y1="350.5" x2="627" y2="350.5"/>
<line x1="620" y1="361.5" x2="627" y2="361.5"/>
<line x1="620" y1="373.5" x2="627" y2="373.5"/>
<line x1="620" y1="385.5" x2="627" y2="385.5"/>
<line x1="620" y1="396.5" x2="627" y2="396.5"/>
<line x1="620" y1="2.5" x2="623" y2="2.5"/>
<line x1="620" y1="12.5" x2="623" y2="12.5"/>
<line x1="620" y1="21.5" x2="623" y2="21.5"/>
<line x1="620" y1="32.5" x2="623" y2="32.5"/>
<line x1="620" y1="46.5" x2="623" y2="46.5"/>
<line x1="620" y1="60.5" x2="623" y2="60.5"/>
<line x1="620" y1="78.5" x2="623" y2="78.5"/>
<line x1="620" y1="100.5" x2="623" y2="100.5"/>
<line x1="620" y1="132.5" x2="623" y2="132.5"/>
<line x1="620" y1="177.5" x2="623" y2="177.5"/>
<line x1="620" y1="276.5" x2="623" y2="276.5"/>
<line x1="620" y1="309.5" x2="623" y2="309.5"/>
<line x1="620" y1="321.5" x2="623" y2="321.5"/>
<line x1="620" y1="333.5" x2="623" y2="333.5"/>
<line x1="620" y1="344.5" x2="623" y2="344.5"/>
<line x1="620" y1="356.5" x2="623" y2="356.5"/>
<line x1="620" y1="367.5" x2="623" y2="367.5"/>
<line x1="620" y1="379.5" x2="623" y2="379.5"/>
<line x1="620" y1="391.5" x2="623" y2="391.5"/>
<line x1="620" y1="402.5" x2="623" y2="402.5"/>
<line x1="620" y1="409.5" x2="623" y2="409.5"/>
<line x1="620" y1="415.5" x2="623" y2="415.5"/>
<line x1="1.5" y1="422" x2="1.5" y2="426"/>
<line x1="20.5" y1="422" x2="20.5" y2="426"/>
<line x1="41.5" y1="422" x2="41.5" y2="426"/>
<line x1="80.5" y1="422" x2="80.5" y2="426"/>
<line x1="100.5" y1="422" x2="100.5" y2="426"/>
<line x1="119.5" y1="422" x2="119.5" y2="426"/>
<line x1="139.5" y1="422" x2="139.5" y2="426"/>
<line x1="159.5" y1="422" x2="159.5" y2="426"/>
<line x1="179.5" y1="422" x2="179.5" y2="426"/>
<line x1="198.5" y1="422" x2="198.5" y2="426"/>
<line x1="218.5" y1="422" x2="218.5" y2="426"/>
<line x1="237.5" y1="422" x2="237.5" y2="426"/>
<line x1="276.5" y1="422" x2="276.5" y2="426"/>
<line x1="295.5" y1="422" x2="295.5" y2="426"/>
<line x1="315.5" y1="422" x2="315.5" y2="426"/>
<line x1="335.5" y1="422" x2="335.5" y2="426"/>
<line x1="355.5" y1="422" x2="355.5" y2="426"/>
<line x1="375.5" y1="422" x2="375.5" y2="426"/>
<line x1="394.5" y1="422" x2="394.5" y2="426"/>
<line x1="414.5" y1="422" x2="414.5" y2="426"/>
<line x1="434.5" y1="422" x2="434.5" y2="426"/>
<line x1="475.5" y1="422" x2="475.5" y2="426"/>
<line x1="494.5" y1="422" x2="494.5" y2="426"/>
<line x1="513.5" y1="422" x2="513.5" y2="426"/>
<line x1="533.5" y1="422" x2="533.5" y2="426"/>
<line x1="554.5" y1="422" x2="554.5" y2="426"/>
<line x1="574.5" y1="422" x2="574.5" y2="426"/>
<line x1="594.5" y1="422" x2="594.5" y2="426"/>
<line x1="614.5" y1="422" x2="614.5" y2="426"/>
<line x1="60.5" y1="422" x2="60.5" y2="439"/>
<line x1="256.5" y1="422" x2="256.5" y2="439"/>
<line x1="453.5" y1="422" x2="453.5" y2="439"/>
</g>
<g font-family="'Liberation Sans', Arial, sans-serif" font-size="12px" fill="#000">
<text x="664" y="13" text-anchor="end">10000</text>
<text x="664" y="32" text-anchor="end">8000</text>
<text x="664" y="45" text-anchor="end">7000</text>
<text x="664" y="58" text-anchor="end">6000</text>
<text x="664" y="75" text-anchor="end">5000</text>
<text x="664" y="95" text-anchor="end">4000</text>
<text x="664" y="121" text-anchor="end">3000</text>
<text x="664" y="157" text-anchor="end">2000</text>
<text x="664" y="220" text-anchor="end">1000</text>
<text x="664" y="333" text-anchor="end">30</text>
<text x="664" y="356" text-anchor="end">10</text>
<text x="664" y="379" text-anchor="end">-10</text>
<text x="664" y="402" text-anchor="end">-30</text>
<text x="62.4" y="437">1980</text>
<text x="258.4" y="437">1990</text>
<text x="455.4" y="437">2000</text>
<text x="-2" y="437">0</text>
<text x="8.3" y="21" textLength="122.5" lengthAdjust="spacing">www.buero-dr-schulz.de</text>
<text x="299" y="20">DAX</text>
<rect x="199" y="314" width="196" height="14" fill="#fff"/>
<text x="200.7" y="325" textLength="193" lengthAdjust="spacing">prozentualer Abstand zur 200-Tage-Linie</text>
<rect x="4" y="398" width="96" height="14" fill="#fff"/>
<text x="5" y="409.4" textLength="93" lengthAdjust="spacing">Hoppenstedt Charts</text>
</g>
</svg>
</body></html>
